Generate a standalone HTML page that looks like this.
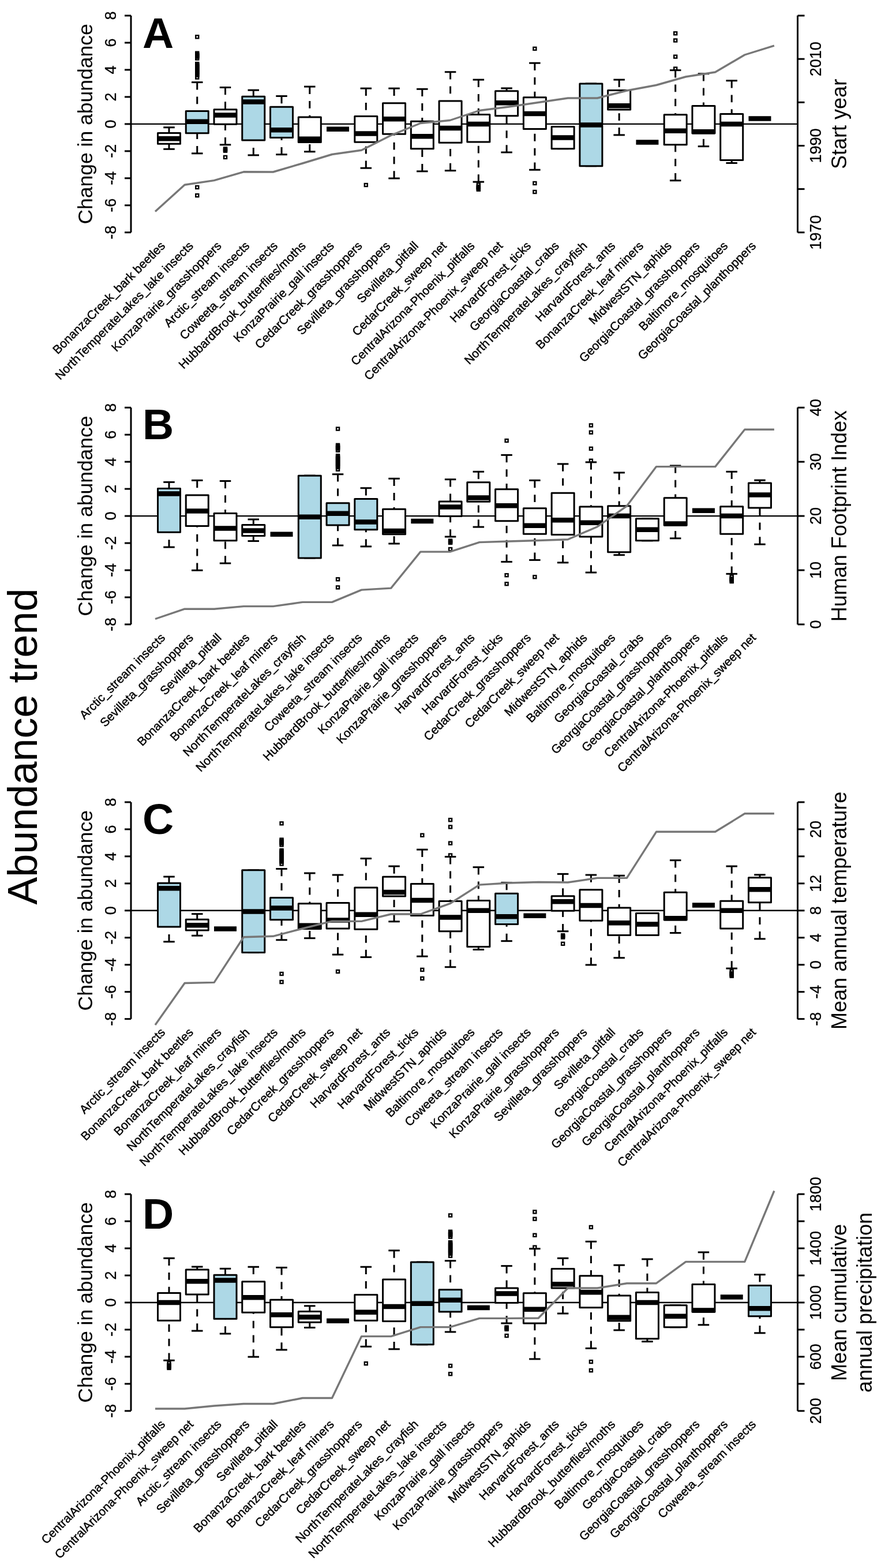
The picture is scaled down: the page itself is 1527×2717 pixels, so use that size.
<!DOCTYPE html>
<html><head><meta charset="utf-8"><title>Abundance trend</title>
<style>
html,body{margin:0;padding:0;background:#fff;}
body{width:1527px;height:2717px;overflow:hidden;}
svg{display:block;}
text{font-family:'Liberation Sans', Arial, Helvetica, sans-serif;fill:#000;}
.l{stroke:#000;stroke-width:0.45px;}
.t{stroke:#000;stroke-width:0.3px;}
</style></head><body>
<svg width="1527" height="2717" viewBox="0 0 1527 2717">
<rect width="1527" height="2717" fill="#fff"/>
<line x1="227" y1="214.9" x2="1382.5" y2="214.9" stroke="#000" stroke-width="2.4"/>
<line x1="293" y1="220.77" x2="293" y2="230.4" stroke="#000" stroke-width="3.0" stroke-dasharray="12.8,12"/>
<line x1="293" y1="258.34" x2="293" y2="249.18" stroke="#000" stroke-width="3.0" stroke-dasharray="12.8,12"/>
<line x1="283.25" y1="220.77" x2="302.75" y2="220.77" stroke="#000" stroke-width="3.0"/>
<line x1="283.25" y1="258.34" x2="302.75" y2="258.34" stroke="#000" stroke-width="3.0"/>
<rect x="273.5" y="230.4" width="39" height="18.78" fill="#fff" stroke="#000" stroke-width="3.0" stroke-linejoin="round"/>
<line x1="273.5" y1="240.26" x2="312.5" y2="240.26" stroke="#000" stroke-width="8.5"/>
<line x1="341.76" y1="142.58" x2="341.76" y2="192.59" stroke="#000" stroke-width="3.0" stroke-dasharray="12.8,12"/>
<line x1="341.76" y1="265.85" x2="341.76" y2="230.87" stroke="#000" stroke-width="3.0" stroke-dasharray="12.8,12"/>
<line x1="332.01" y1="142.58" x2="351.51" y2="142.58" stroke="#000" stroke-width="3.0"/>
<line x1="332.01" y1="265.85" x2="351.51" y2="265.85" stroke="#000" stroke-width="3.0"/>
<rect x="322.26" y="192.59" width="39" height="38.27" fill="#add8e6" stroke="#000" stroke-width="3.0" stroke-linejoin="round"/>
<line x1="322.26" y1="210.67" x2="361.26" y2="210.67" stroke="#000" stroke-width="8.5"/>
<rect x="339.26" y="61.4" width="5" height="5" fill="none" stroke="#000" stroke-width="2.4"/>
<rect x="339.26" y="89.69" width="5" height="5" fill="none" stroke="#000" stroke-width="2.4"/>
<rect x="339.26" y="91.99" width="5" height="5" fill="none" stroke="#000" stroke-width="2.4"/>
<rect x="339.26" y="93.99" width="5" height="5" fill="none" stroke="#000" stroke-width="2.4"/>
<rect x="339.26" y="95.8" width="5" height="5" fill="none" stroke="#000" stroke-width="2.4"/>
<rect x="339.26" y="98.59" width="5" height="5" fill="none" stroke="#000" stroke-width="2.4"/>
<rect x="339.26" y="108.1" width="5" height="5" fill="none" stroke="#000" stroke-width="2.4"/>
<rect x="339.26" y="110" width="5" height="5" fill="none" stroke="#000" stroke-width="2.4"/>
<rect x="339.26" y="112" width="5" height="5" fill="none" stroke="#000" stroke-width="2.4"/>
<rect x="339.26" y="114" width="5" height="5" fill="none" stroke="#000" stroke-width="2.4"/>
<rect x="339.26" y="115.99" width="5" height="5" fill="none" stroke="#000" stroke-width="2.4"/>
<rect x="339.26" y="118.01" width="5" height="5" fill="none" stroke="#000" stroke-width="2.4"/>
<rect x="339.26" y="120.01" width="5" height="5" fill="none" stroke="#000" stroke-width="2.4"/>
<rect x="339.26" y="122" width="5" height="5" fill="none" stroke="#000" stroke-width="2.4"/>
<rect x="339.26" y="124" width="5" height="5" fill="none" stroke="#000" stroke-width="2.4"/>
<rect x="339.26" y="125.99" width="5" height="5" fill="none" stroke="#000" stroke-width="2.4"/>
<rect x="339.26" y="127.9" width="5" height="5" fill="none" stroke="#000" stroke-width="2.4"/>
<rect x="339.26" y="131.61" width="5" height="5" fill="none" stroke="#000" stroke-width="2.4"/>
<rect x="339.26" y="322.05" width="5" height="5" fill="none" stroke="#000" stroke-width="2.4"/>
<rect x="339.26" y="336.14" width="5" height="5" fill="none" stroke="#000" stroke-width="2.4"/>
<line x1="390.52" y1="151.5" x2="390.52" y2="189.78" stroke="#000" stroke-width="3.0" stroke-dasharray="12.8,12"/>
<line x1="390.52" y1="250.82" x2="390.52" y2="215.37" stroke="#000" stroke-width="3.0" stroke-dasharray="12.8,12"/>
<line x1="380.77" y1="151.5" x2="400.27" y2="151.5" stroke="#000" stroke-width="3.0"/>
<line x1="380.77" y1="250.82" x2="400.27" y2="250.82" stroke="#000" stroke-width="3.0"/>
<rect x="371.02" y="189.78" width="39" height="25.59" fill="#fff" stroke="#000" stroke-width="3.0" stroke-linejoin="round"/>
<line x1="371.02" y1="199.4" x2="410.02" y2="199.4" stroke="#000" stroke-width="8.5"/>
<rect x="388.02" y="255.37" width="5" height="5" fill="none" stroke="#000" stroke-width="2.4"/>
<rect x="388.02" y="257.01" width="5" height="5" fill="none" stroke="#000" stroke-width="2.4"/>
<rect x="388.02" y="258.66" width="5" height="5" fill="none" stroke="#000" stroke-width="2.4"/>
<rect x="388.02" y="269.93" width="5" height="5" fill="none" stroke="#000" stroke-width="2.4"/>
<line x1="439.28" y1="156.2" x2="439.28" y2="167.24" stroke="#000" stroke-width="3.0" stroke-dasharray="12.8,12"/>
<line x1="439.28" y1="268.9" x2="439.28" y2="243.08" stroke="#000" stroke-width="3.0" stroke-dasharray="12.8,12"/>
<line x1="429.53" y1="156.2" x2="449.03" y2="156.2" stroke="#000" stroke-width="3.0"/>
<line x1="429.53" y1="268.9" x2="449.03" y2="268.9" stroke="#000" stroke-width="3.0"/>
<rect x="419.78" y="167.24" width="39" height="75.84" fill="#add8e6" stroke="#000" stroke-width="3.0" stroke-linejoin="round"/>
<line x1="419.78" y1="176.39" x2="458.78" y2="176.39" stroke="#000" stroke-width="8.5"/>
<line x1="488.04" y1="166.53" x2="488.04" y2="185.32" stroke="#000" stroke-width="3.0" stroke-dasharray="12.8,12"/>
<line x1="488.04" y1="267.73" x2="488.04" y2="238.61" stroke="#000" stroke-width="3.0" stroke-dasharray="12.8,12"/>
<line x1="478.29" y1="166.53" x2="497.79" y2="166.53" stroke="#000" stroke-width="3.0"/>
<line x1="478.29" y1="267.73" x2="497.79" y2="267.73" stroke="#000" stroke-width="3.0"/>
<rect x="468.54" y="185.32" width="39" height="53.3" fill="#add8e6" stroke="#000" stroke-width="3.0" stroke-linejoin="round"/>
<line x1="468.54" y1="225.23" x2="507.54" y2="225.23" stroke="#000" stroke-width="8.5"/>
<line x1="536.8" y1="150.1" x2="536.8" y2="202.93" stroke="#000" stroke-width="3.0" stroke-dasharray="12.8,12"/>
<line x1="536.8" y1="262.8" x2="536.8" y2="246.6" stroke="#000" stroke-width="3.0" stroke-dasharray="12.8,12"/>
<line x1="527.05" y1="150.1" x2="546.55" y2="150.1" stroke="#000" stroke-width="3.0"/>
<line x1="527.05" y1="262.8" x2="546.55" y2="262.8" stroke="#000" stroke-width="3.0"/>
<rect x="517.3" y="202.93" width="39" height="43.67" fill="#fff" stroke="#000" stroke-width="3.0" stroke-linejoin="round"/>
<line x1="517.3" y1="240.73" x2="556.3" y2="240.73" stroke="#000" stroke-width="8.5"/>
<line x1="575.81" y1="223.82" x2="595.31" y2="223.82" stroke="#000" stroke-width="3.0"/>
<line x1="575.81" y1="223.82" x2="595.31" y2="223.82" stroke="#000" stroke-width="3.0"/>
<rect x="566.06" y="223.82" width="39" height="0" fill="#fff" stroke="#000" stroke-width="3.0" stroke-linejoin="round"/>
<line x1="566.06" y1="223.82" x2="605.06" y2="223.82" stroke="#000" stroke-width="8.5"/>
<line x1="634.32" y1="153.15" x2="634.32" y2="201.52" stroke="#000" stroke-width="3.0" stroke-dasharray="12.8,12"/>
<line x1="634.32" y1="291.21" x2="634.32" y2="246.13" stroke="#000" stroke-width="3.0" stroke-dasharray="12.8,12"/>
<line x1="624.57" y1="153.15" x2="644.07" y2="153.15" stroke="#000" stroke-width="3.0"/>
<line x1="624.57" y1="291.21" x2="644.07" y2="291.21" stroke="#000" stroke-width="3.0"/>
<rect x="614.82" y="201.52" width="39" height="44.61" fill="#fff" stroke="#000" stroke-width="3.0" stroke-linejoin="round"/>
<line x1="614.82" y1="231.57" x2="653.82" y2="231.57" stroke="#000" stroke-width="8.5"/>
<rect x="631.82" y="318.06" width="5" height="5" fill="none" stroke="#000" stroke-width="2.4"/>
<line x1="683.08" y1="153.15" x2="683.08" y2="178.74" stroke="#000" stroke-width="3.0" stroke-dasharray="12.8,12"/>
<line x1="683.08" y1="309.05" x2="683.08" y2="232.28" stroke="#000" stroke-width="3.0" stroke-dasharray="12.8,12"/>
<line x1="673.33" y1="153.15" x2="692.83" y2="153.15" stroke="#000" stroke-width="3.0"/>
<line x1="673.33" y1="309.05" x2="692.83" y2="309.05" stroke="#000" stroke-width="3.0"/>
<rect x="663.58" y="178.74" width="39" height="53.53" fill="#fff" stroke="#000" stroke-width="3.0" stroke-linejoin="round"/>
<line x1="663.58" y1="206.21" x2="702.58" y2="206.21" stroke="#000" stroke-width="8.5"/>
<line x1="731.84" y1="154.32" x2="731.84" y2="210.2" stroke="#000" stroke-width="3.0" stroke-dasharray="12.8,12"/>
<line x1="731.84" y1="296.85" x2="731.84" y2="257.63" stroke="#000" stroke-width="3.0" stroke-dasharray="12.8,12"/>
<line x1="722.09" y1="154.32" x2="741.59" y2="154.32" stroke="#000" stroke-width="3.0"/>
<line x1="722.09" y1="296.85" x2="741.59" y2="296.85" stroke="#000" stroke-width="3.0"/>
<rect x="712.34" y="210.2" width="39" height="47.43" fill="#fff" stroke="#000" stroke-width="3.0" stroke-linejoin="round"/>
<line x1="712.34" y1="236.27" x2="751.34" y2="236.27" stroke="#000" stroke-width="8.5"/>
<line x1="780.6" y1="124.74" x2="780.6" y2="174.98" stroke="#000" stroke-width="3.0" stroke-dasharray="12.8,12"/>
<line x1="780.6" y1="295.67" x2="780.6" y2="247.3" stroke="#000" stroke-width="3.0" stroke-dasharray="12.8,12"/>
<line x1="770.85" y1="124.74" x2="790.35" y2="124.74" stroke="#000" stroke-width="3.0"/>
<line x1="770.85" y1="295.67" x2="790.35" y2="295.67" stroke="#000" stroke-width="3.0"/>
<rect x="761.1" y="174.98" width="39" height="72.32" fill="#fff" stroke="#000" stroke-width="3.0" stroke-linejoin="round"/>
<line x1="761.1" y1="221.94" x2="800.1" y2="221.94" stroke="#000" stroke-width="8.5"/>
<line x1="829.36" y1="138.12" x2="829.36" y2="198.46" stroke="#000" stroke-width="3.0" stroke-dasharray="12.8,12"/>
<line x1="829.36" y1="315.16" x2="829.36" y2="246.13" stroke="#000" stroke-width="3.0" stroke-dasharray="12.8,12"/>
<line x1="819.61" y1="138.12" x2="839.11" y2="138.12" stroke="#000" stroke-width="3.0"/>
<line x1="819.61" y1="315.16" x2="839.11" y2="315.16" stroke="#000" stroke-width="3.0"/>
<rect x="809.86" y="198.46" width="39" height="47.66" fill="#fff" stroke="#000" stroke-width="3.0" stroke-linejoin="round"/>
<line x1="809.86" y1="214.9" x2="848.86" y2="214.9" stroke="#000" stroke-width="8.5"/>
<rect x="826.86" y="317.5" width="5" height="5" fill="none" stroke="#000" stroke-width="2.4"/>
<rect x="826.86" y="321" width="5" height="5" fill="none" stroke="#000" stroke-width="2.4"/>
<rect x="826.86" y="322.5" width="5" height="5" fill="none" stroke="#000" stroke-width="2.4"/>
<rect x="826.86" y="324" width="5" height="5" fill="none" stroke="#000" stroke-width="2.4"/>
<rect x="826.86" y="325.81" width="5" height="5" fill="none" stroke="#000" stroke-width="2.4"/>
<line x1="878.12" y1="152.91" x2="878.12" y2="157.84" stroke="#000" stroke-width="3.0" stroke-dasharray="12.8,12"/>
<line x1="878.12" y1="263.97" x2="878.12" y2="200.81" stroke="#000" stroke-width="3.0" stroke-dasharray="12.8,12"/>
<line x1="868.37" y1="152.91" x2="887.87" y2="152.91" stroke="#000" stroke-width="3.0"/>
<line x1="868.37" y1="263.97" x2="887.87" y2="263.97" stroke="#000" stroke-width="3.0"/>
<rect x="858.62" y="157.84" width="39" height="42.97" fill="#fff" stroke="#000" stroke-width="3.0" stroke-linejoin="round"/>
<line x1="858.62" y1="178.27" x2="897.62" y2="178.27" stroke="#000" stroke-width="8.5"/>
<line x1="926.88" y1="109.24" x2="926.88" y2="168.64" stroke="#000" stroke-width="3.0" stroke-dasharray="12.8,12"/>
<line x1="926.88" y1="294.26" x2="926.88" y2="223.59" stroke="#000" stroke-width="3.0" stroke-dasharray="12.8,12"/>
<line x1="917.13" y1="109.24" x2="936.63" y2="109.24" stroke="#000" stroke-width="3.0"/>
<line x1="917.13" y1="294.26" x2="936.63" y2="294.26" stroke="#000" stroke-width="3.0"/>
<rect x="907.38" y="168.64" width="39" height="54.94" fill="#fff" stroke="#000" stroke-width="3.0" stroke-linejoin="round"/>
<line x1="907.38" y1="197.06" x2="946.38" y2="197.06" stroke="#000" stroke-width="8.5"/>
<rect x="924.38" y="81.85" width="5" height="5" fill="none" stroke="#000" stroke-width="2.4"/>
<rect x="924.38" y="315.01" width="5" height="5" fill="none" stroke="#000" stroke-width="2.4"/>
<rect x="924.38" y="330.03" width="5" height="5" fill="none" stroke="#000" stroke-width="2.4"/>
<line x1="965.89" y1="219.6" x2="985.39" y2="219.6" stroke="#000" stroke-width="3.0"/>
<line x1="965.89" y1="257.63" x2="985.39" y2="257.63" stroke="#000" stroke-width="3.0"/>
<rect x="956.14" y="219.6" width="39" height="38.04" fill="#fff" stroke="#000" stroke-width="3.0" stroke-linejoin="round"/>
<line x1="956.14" y1="238.61" x2="995.14" y2="238.61" stroke="#000" stroke-width="8.5"/>
<line x1="1014.65" y1="144.93" x2="1034.15" y2="144.93" stroke="#000" stroke-width="3.0"/>
<line x1="1014.65" y1="287.69" x2="1034.15" y2="287.69" stroke="#000" stroke-width="3.0"/>
<rect x="1004.9" y="144.93" width="39" height="142.76" fill="#add8e6" stroke="#000" stroke-width="3.0" stroke-linejoin="round"/>
<line x1="1004.9" y1="216.54" x2="1043.9" y2="216.54" stroke="#000" stroke-width="8.5"/>
<line x1="1073.16" y1="138.12" x2="1073.16" y2="156.43" stroke="#000" stroke-width="3.0" stroke-dasharray="12.8,12"/>
<line x1="1073.16" y1="233.92" x2="1073.16" y2="190.01" stroke="#000" stroke-width="3.0" stroke-dasharray="12.8,12"/>
<line x1="1063.41" y1="138.12" x2="1082.91" y2="138.12" stroke="#000" stroke-width="3.0"/>
<line x1="1063.41" y1="233.92" x2="1082.91" y2="233.92" stroke="#000" stroke-width="3.0"/>
<rect x="1053.66" y="156.43" width="39" height="33.58" fill="#fff" stroke="#000" stroke-width="3.0" stroke-linejoin="round"/>
<line x1="1053.66" y1="183.2" x2="1092.66" y2="183.2" stroke="#000" stroke-width="8.5"/>
<line x1="1112.17" y1="246.6" x2="1131.67" y2="246.6" stroke="#000" stroke-width="3.0"/>
<line x1="1112.17" y1="246.6" x2="1131.67" y2="246.6" stroke="#000" stroke-width="3.0"/>
<rect x="1102.42" y="246.6" width="39" height="0" fill="#fff" stroke="#000" stroke-width="3.0" stroke-linejoin="round"/>
<line x1="1102.42" y1="246.6" x2="1141.42" y2="246.6" stroke="#000" stroke-width="8.5"/>
<line x1="1170.68" y1="121.68" x2="1170.68" y2="198.7" stroke="#000" stroke-width="3.0" stroke-dasharray="12.8,12"/>
<line x1="1170.68" y1="312.81" x2="1170.68" y2="250.82" stroke="#000" stroke-width="3.0" stroke-dasharray="12.8,12"/>
<line x1="1160.93" y1="121.68" x2="1180.43" y2="121.68" stroke="#000" stroke-width="3.0"/>
<line x1="1160.93" y1="312.81" x2="1180.43" y2="312.81" stroke="#000" stroke-width="3.0"/>
<rect x="1151.18" y="198.7" width="39" height="52.13" fill="#fff" stroke="#000" stroke-width="3.0" stroke-linejoin="round"/>
<line x1="1151.18" y1="226.64" x2="1190.18" y2="226.64" stroke="#000" stroke-width="8.5"/>
<rect x="1168.18" y="55.32" width="5" height="5" fill="none" stroke="#000" stroke-width="2.4"/>
<rect x="1168.18" y="67.53" width="5" height="5" fill="none" stroke="#000" stroke-width="2.4"/>
<rect x="1168.18" y="95.7" width="5" height="5" fill="none" stroke="#000" stroke-width="2.4"/>
<rect x="1168.18" y="116.6" width="5" height="5" fill="none" stroke="#000" stroke-width="2.4"/>
<line x1="1219.44" y1="127.79" x2="1219.44" y2="183.44" stroke="#000" stroke-width="3.0" stroke-dasharray="12.8,12"/>
<line x1="1219.44" y1="253.64" x2="1219.44" y2="231.1" stroke="#000" stroke-width="3.0" stroke-dasharray="12.8,12"/>
<line x1="1209.69" y1="127.79" x2="1229.19" y2="127.79" stroke="#000" stroke-width="3.0"/>
<line x1="1209.69" y1="253.64" x2="1229.19" y2="253.64" stroke="#000" stroke-width="3.0"/>
<rect x="1199.94" y="183.44" width="39" height="47.66" fill="#fff" stroke="#000" stroke-width="3.0" stroke-linejoin="round"/>
<line x1="1199.94" y1="228.28" x2="1238.94" y2="228.28" stroke="#000" stroke-width="8.5"/>
<line x1="1268.2" y1="139.76" x2="1268.2" y2="197.52" stroke="#000" stroke-width="3.0" stroke-dasharray="12.8,12"/>
<line x1="1268.2" y1="282.52" x2="1268.2" y2="277.59" stroke="#000" stroke-width="3.0" stroke-dasharray="12.8,12"/>
<line x1="1258.45" y1="139.76" x2="1277.95" y2="139.76" stroke="#000" stroke-width="3.0"/>
<line x1="1258.45" y1="282.52" x2="1277.95" y2="282.52" stroke="#000" stroke-width="3.0"/>
<rect x="1248.7" y="197.52" width="39" height="80.07" fill="#fff" stroke="#000" stroke-width="3.0" stroke-linejoin="round"/>
<line x1="1248.7" y1="214.9" x2="1287.7" y2="214.9" stroke="#000" stroke-width="8.5"/>
<line x1="1307.21" y1="205.51" x2="1326.71" y2="205.51" stroke="#000" stroke-width="3.0"/>
<line x1="1307.21" y1="205.51" x2="1326.71" y2="205.51" stroke="#000" stroke-width="3.0"/>
<rect x="1297.46" y="205.51" width="39" height="0" fill="#fff" stroke="#000" stroke-width="3.0" stroke-linejoin="round"/>
<line x1="1297.46" y1="205.51" x2="1336.46" y2="205.51" stroke="#000" stroke-width="8.5"/>
<polyline points="269,366.5 320.09,320.2 371.18,312.6 422.27,297.8 473.36,298 524.45,283 575.54,267.5 626.63,260.3 677.72,234.5 728.81,213.5 779.9,208.5 830.99,191.5 882.08,185 933.17,177.5 984.26,170 1035.35,170 1086.44,157 1137.53,147.5 1188.62,133 1239.71,125 1290.8,95 1341.89,79.2" fill="none" stroke="#777" stroke-width="3.4" stroke-linejoin="round"/>
<line x1="227" y1="27.06" x2="227" y2="402.74" stroke="#000" stroke-width="3"/>
<line x1="216" y1="402.74" x2="227" y2="402.74" stroke="#000" stroke-width="3"/>
<text transform="translate(201.3,402.74) rotate(-90)" text-anchor="middle" font-size="27" class="t">-8</text>
<line x1="216" y1="355.78" x2="227" y2="355.78" stroke="#000" stroke-width="3"/>
<text transform="translate(201.3,355.78) rotate(-90)" text-anchor="middle" font-size="27" class="t">-6</text>
<line x1="216" y1="308.82" x2="227" y2="308.82" stroke="#000" stroke-width="3"/>
<text transform="translate(201.3,308.82) rotate(-90)" text-anchor="middle" font-size="27" class="t">-4</text>
<line x1="216" y1="261.86" x2="227" y2="261.86" stroke="#000" stroke-width="3"/>
<text transform="translate(201.3,261.86) rotate(-90)" text-anchor="middle" font-size="27" class="t">-2</text>
<line x1="216" y1="214.9" x2="227" y2="214.9" stroke="#000" stroke-width="3"/>
<text transform="translate(201.3,214.9) rotate(-90)" text-anchor="middle" font-size="27" class="t">0</text>
<line x1="216" y1="167.94" x2="227" y2="167.94" stroke="#000" stroke-width="3"/>
<text transform="translate(201.3,167.94) rotate(-90)" text-anchor="middle" font-size="27" class="t">2</text>
<line x1="216" y1="120.98" x2="227" y2="120.98" stroke="#000" stroke-width="3"/>
<text transform="translate(201.3,120.98) rotate(-90)" text-anchor="middle" font-size="27" class="t">4</text>
<line x1="216" y1="74.02" x2="227" y2="74.02" stroke="#000" stroke-width="3"/>
<text transform="translate(201.3,74.02) rotate(-90)" text-anchor="middle" font-size="27" class="t">6</text>
<line x1="216" y1="27.06" x2="227" y2="27.06" stroke="#000" stroke-width="3"/>
<text transform="translate(201.3,27.06) rotate(-90)" text-anchor="middle" font-size="27" class="t">8</text>
<text transform="translate(159.5,214.9) rotate(-90)" text-anchor="middle" font-size="35.5">Change in abundance</text>
<line x1="1382.5" y1="27.06" x2="1382.5" y2="402.74" stroke="#000" stroke-width="3"/>
<line x1="1382.5" y1="402.74" x2="1394.5" y2="402.74" stroke="#000" stroke-width="3"/>
<line x1="1382.5" y1="327.6" x2="1394.5" y2="327.6" stroke="#000" stroke-width="3"/>
<line x1="1382.5" y1="252.47" x2="1394.5" y2="252.47" stroke="#000" stroke-width="3"/>
<line x1="1382.5" y1="177.33" x2="1394.5" y2="177.33" stroke="#000" stroke-width="3"/>
<line x1="1382.5" y1="102.2" x2="1394.5" y2="102.2" stroke="#000" stroke-width="3"/>
<line x1="1382.5" y1="27.06" x2="1394.5" y2="27.06" stroke="#000" stroke-width="3"/>
<text transform="translate(1423.4,402.74) rotate(-90)" text-anchor="middle" font-size="27" class="t">1970</text>
<text transform="translate(1423.4,252.47) rotate(-90)" text-anchor="middle" font-size="27" class="t">1990</text>
<text transform="translate(1423.4,102.2) rotate(-90)" text-anchor="middle" font-size="27" class="t">2010</text>
<text transform="translate(1466.5,214.9) rotate(-90)" text-anchor="middle" font-size="36">Start year</text>
<text x="247" y="82.6" font-size="75" font-weight="bold">A</text>
<text transform="translate(287.5,427.24) rotate(-45)" text-anchor="end" font-size="21" class="l">BonanzaCreek_bark beetles</text>
<text transform="translate(336.26,427.24) rotate(-45)" text-anchor="end" font-size="21" class="l">NorthTemperateLakes_lake insects</text>
<text transform="translate(385.02,427.24) rotate(-45)" text-anchor="end" font-size="21" class="l">KonzaPrairie_grasshoppers</text>
<text transform="translate(433.78,427.24) rotate(-45)" text-anchor="end" font-size="21" class="l">Arctic_stream insects</text>
<text transform="translate(482.54,427.24) rotate(-45)" text-anchor="end" font-size="21" class="l">Coweeta_stream insects</text>
<text transform="translate(531.3,427.24) rotate(-45)" text-anchor="end" font-size="21" class="l">HubbardBrook_butterflies/moths</text>
<text transform="translate(580.06,427.24) rotate(-45)" text-anchor="end" font-size="21" class="l">KonzaPrairie_gall insects</text>
<text transform="translate(628.82,427.24) rotate(-45)" text-anchor="end" font-size="21" class="l">CedarCreek_grasshoppers</text>
<text transform="translate(677.58,427.24) rotate(-45)" text-anchor="end" font-size="21" class="l">Sevilleta_grasshoppers</text>
<text transform="translate(726.34,427.24) rotate(-45)" text-anchor="end" font-size="21" class="l">Sevilleta_pitfall</text>
<text transform="translate(775.1,427.24) rotate(-45)" text-anchor="end" font-size="21" class="l">CedarCreek_sweep net</text>
<text transform="translate(823.86,427.24) rotate(-45)" text-anchor="end" font-size="21" class="l">CentralArizona-Phoenix_pitfalls</text>
<text transform="translate(872.62,427.24) rotate(-45)" text-anchor="end" font-size="21" class="l">CentralArizona-Phoenix_sweep net</text>
<text transform="translate(921.38,427.24) rotate(-45)" text-anchor="end" font-size="21" class="l">HarvardForest_ticks</text>
<text transform="translate(970.14,427.24) rotate(-45)" text-anchor="end" font-size="21" class="l">GeorgiaCoastal_crabs</text>
<text transform="translate(1018.9,427.24) rotate(-45)" text-anchor="end" font-size="21" class="l">NorthTemperateLakes_crayfish</text>
<text transform="translate(1067.66,427.24) rotate(-45)" text-anchor="end" font-size="21" class="l">HarvardForest_ants</text>
<text transform="translate(1116.42,427.24) rotate(-45)" text-anchor="end" font-size="21" class="l">BonanzaCreek_leaf miners</text>
<text transform="translate(1165.18,427.24) rotate(-45)" text-anchor="end" font-size="21" class="l">MidwestSTN_aphids</text>
<text transform="translate(1213.94,427.24) rotate(-45)" text-anchor="end" font-size="21" class="l">GeorgiaCoastal_grasshoppers</text>
<text transform="translate(1262.7,427.24) rotate(-45)" text-anchor="end" font-size="21" class="l">Baltimore_mosquitoes</text>
<text transform="translate(1311.46,427.24) rotate(-45)" text-anchor="end" font-size="21" class="l">GeorgiaCoastal_planthoppers</text>
<line x1="227" y1="894.1" x2="1382.5" y2="894.1" stroke="#000" stroke-width="2.4"/>
<line x1="293" y1="835.4" x2="293" y2="846.44" stroke="#000" stroke-width="3.0" stroke-dasharray="12.8,12"/>
<line x1="293" y1="948.1" x2="293" y2="922.28" stroke="#000" stroke-width="3.0" stroke-dasharray="12.8,12"/>
<line x1="283.25" y1="835.4" x2="302.75" y2="835.4" stroke="#000" stroke-width="3.0"/>
<line x1="283.25" y1="948.1" x2="302.75" y2="948.1" stroke="#000" stroke-width="3.0"/>
<rect x="273.5" y="846.44" width="39" height="75.84" fill="#add8e6" stroke="#000" stroke-width="3.0" stroke-linejoin="round"/>
<line x1="273.5" y1="855.59" x2="312.5" y2="855.59" stroke="#000" stroke-width="8.5"/>
<line x1="341.76" y1="832.35" x2="341.76" y2="857.94" stroke="#000" stroke-width="3.0" stroke-dasharray="12.8,12"/>
<line x1="341.76" y1="988.25" x2="341.76" y2="911.48" stroke="#000" stroke-width="3.0" stroke-dasharray="12.8,12"/>
<line x1="332.01" y1="832.35" x2="351.51" y2="832.35" stroke="#000" stroke-width="3.0"/>
<line x1="332.01" y1="988.25" x2="351.51" y2="988.25" stroke="#000" stroke-width="3.0"/>
<rect x="322.26" y="857.94" width="39" height="53.53" fill="#fff" stroke="#000" stroke-width="3.0" stroke-linejoin="round"/>
<line x1="322.26" y1="885.41" x2="361.26" y2="885.41" stroke="#000" stroke-width="8.5"/>
<line x1="390.52" y1="833.52" x2="390.52" y2="889.4" stroke="#000" stroke-width="3.0" stroke-dasharray="12.8,12"/>
<line x1="390.52" y1="976.05" x2="390.52" y2="936.83" stroke="#000" stroke-width="3.0" stroke-dasharray="12.8,12"/>
<line x1="380.77" y1="833.52" x2="400.27" y2="833.52" stroke="#000" stroke-width="3.0"/>
<line x1="380.77" y1="976.05" x2="400.27" y2="976.05" stroke="#000" stroke-width="3.0"/>
<rect x="371.02" y="889.4" width="39" height="47.43" fill="#fff" stroke="#000" stroke-width="3.0" stroke-linejoin="round"/>
<line x1="371.02" y1="915.47" x2="410.02" y2="915.47" stroke="#000" stroke-width="8.5"/>
<line x1="439.28" y1="899.97" x2="439.28" y2="909.6" stroke="#000" stroke-width="3.0" stroke-dasharray="12.8,12"/>
<line x1="439.28" y1="937.54" x2="439.28" y2="928.38" stroke="#000" stroke-width="3.0" stroke-dasharray="12.8,12"/>
<line x1="429.53" y1="899.97" x2="449.03" y2="899.97" stroke="#000" stroke-width="3.0"/>
<line x1="429.53" y1="937.54" x2="449.03" y2="937.54" stroke="#000" stroke-width="3.0"/>
<rect x="419.78" y="909.6" width="39" height="18.78" fill="#fff" stroke="#000" stroke-width="3.0" stroke-linejoin="round"/>
<line x1="419.78" y1="919.46" x2="458.78" y2="919.46" stroke="#000" stroke-width="8.5"/>
<line x1="478.29" y1="925.8" x2="497.79" y2="925.8" stroke="#000" stroke-width="3.0"/>
<line x1="478.29" y1="925.8" x2="497.79" y2="925.8" stroke="#000" stroke-width="3.0"/>
<rect x="468.54" y="925.8" width="39" height="0" fill="#fff" stroke="#000" stroke-width="3.0" stroke-linejoin="round"/>
<line x1="468.54" y1="925.8" x2="507.54" y2="925.8" stroke="#000" stroke-width="8.5"/>
<line x1="527.05" y1="824.13" x2="546.55" y2="824.13" stroke="#000" stroke-width="3.0"/>
<line x1="527.05" y1="966.89" x2="546.55" y2="966.89" stroke="#000" stroke-width="3.0"/>
<rect x="517.3" y="824.13" width="39" height="142.76" fill="#add8e6" stroke="#000" stroke-width="3.0" stroke-linejoin="round"/>
<line x1="517.3" y1="895.74" x2="556.3" y2="895.74" stroke="#000" stroke-width="8.5"/>
<line x1="585.56" y1="821.78" x2="585.56" y2="871.79" stroke="#000" stroke-width="3.0" stroke-dasharray="12.8,12"/>
<line x1="585.56" y1="945.05" x2="585.56" y2="910.07" stroke="#000" stroke-width="3.0" stroke-dasharray="12.8,12"/>
<line x1="575.81" y1="821.78" x2="595.31" y2="821.78" stroke="#000" stroke-width="3.0"/>
<line x1="575.81" y1="945.05" x2="595.31" y2="945.05" stroke="#000" stroke-width="3.0"/>
<rect x="566.06" y="871.79" width="39" height="38.27" fill="#add8e6" stroke="#000" stroke-width="3.0" stroke-linejoin="round"/>
<line x1="566.06" y1="889.87" x2="605.06" y2="889.87" stroke="#000" stroke-width="8.5"/>
<rect x="583.06" y="740.6" width="5" height="5" fill="none" stroke="#000" stroke-width="2.4"/>
<rect x="583.06" y="768.89" width="5" height="5" fill="none" stroke="#000" stroke-width="2.4"/>
<rect x="583.06" y="771.19" width="5" height="5" fill="none" stroke="#000" stroke-width="2.4"/>
<rect x="583.06" y="773.19" width="5" height="5" fill="none" stroke="#000" stroke-width="2.4"/>
<rect x="583.06" y="775" width="5" height="5" fill="none" stroke="#000" stroke-width="2.4"/>
<rect x="583.06" y="777.79" width="5" height="5" fill="none" stroke="#000" stroke-width="2.4"/>
<rect x="583.06" y="787.3" width="5" height="5" fill="none" stroke="#000" stroke-width="2.4"/>
<rect x="583.06" y="789.2" width="5" height="5" fill="none" stroke="#000" stroke-width="2.4"/>
<rect x="583.06" y="791.2" width="5" height="5" fill="none" stroke="#000" stroke-width="2.4"/>
<rect x="583.06" y="793.2" width="5" height="5" fill="none" stroke="#000" stroke-width="2.4"/>
<rect x="583.06" y="795.19" width="5" height="5" fill="none" stroke="#000" stroke-width="2.4"/>
<rect x="583.06" y="797.21" width="5" height="5" fill="none" stroke="#000" stroke-width="2.4"/>
<rect x="583.06" y="799.21" width="5" height="5" fill="none" stroke="#000" stroke-width="2.4"/>
<rect x="583.06" y="801.2" width="5" height="5" fill="none" stroke="#000" stroke-width="2.4"/>
<rect x="583.06" y="803.2" width="5" height="5" fill="none" stroke="#000" stroke-width="2.4"/>
<rect x="583.06" y="805.19" width="5" height="5" fill="none" stroke="#000" stroke-width="2.4"/>
<rect x="583.06" y="807.1" width="5" height="5" fill="none" stroke="#000" stroke-width="2.4"/>
<rect x="583.06" y="810.81" width="5" height="5" fill="none" stroke="#000" stroke-width="2.4"/>
<rect x="583.06" y="1001.25" width="5" height="5" fill="none" stroke="#000" stroke-width="2.4"/>
<rect x="583.06" y="1015.34" width="5" height="5" fill="none" stroke="#000" stroke-width="2.4"/>
<line x1="634.32" y1="845.73" x2="634.32" y2="864.52" stroke="#000" stroke-width="3.0" stroke-dasharray="12.8,12"/>
<line x1="634.32" y1="946.93" x2="634.32" y2="917.81" stroke="#000" stroke-width="3.0" stroke-dasharray="12.8,12"/>
<line x1="624.57" y1="845.73" x2="644.07" y2="845.73" stroke="#000" stroke-width="3.0"/>
<line x1="624.57" y1="946.93" x2="644.07" y2="946.93" stroke="#000" stroke-width="3.0"/>
<rect x="614.82" y="864.52" width="39" height="53.3" fill="#add8e6" stroke="#000" stroke-width="3.0" stroke-linejoin="round"/>
<line x1="614.82" y1="904.43" x2="653.82" y2="904.43" stroke="#000" stroke-width="8.5"/>
<line x1="683.08" y1="829.3" x2="683.08" y2="882.13" stroke="#000" stroke-width="3.0" stroke-dasharray="12.8,12"/>
<line x1="683.08" y1="942" x2="683.08" y2="925.8" stroke="#000" stroke-width="3.0" stroke-dasharray="12.8,12"/>
<line x1="673.33" y1="829.3" x2="692.83" y2="829.3" stroke="#000" stroke-width="3.0"/>
<line x1="673.33" y1="942" x2="692.83" y2="942" stroke="#000" stroke-width="3.0"/>
<rect x="663.58" y="882.13" width="39" height="43.67" fill="#fff" stroke="#000" stroke-width="3.0" stroke-linejoin="round"/>
<line x1="663.58" y1="919.93" x2="702.58" y2="919.93" stroke="#000" stroke-width="8.5"/>
<line x1="722.09" y1="903.02" x2="741.59" y2="903.02" stroke="#000" stroke-width="3.0"/>
<line x1="722.09" y1="903.02" x2="741.59" y2="903.02" stroke="#000" stroke-width="3.0"/>
<rect x="712.34" y="903.02" width="39" height="0" fill="#fff" stroke="#000" stroke-width="3.0" stroke-linejoin="round"/>
<line x1="712.34" y1="903.02" x2="751.34" y2="903.02" stroke="#000" stroke-width="8.5"/>
<line x1="780.6" y1="830.7" x2="780.6" y2="868.98" stroke="#000" stroke-width="3.0" stroke-dasharray="12.8,12"/>
<line x1="780.6" y1="930.02" x2="780.6" y2="894.57" stroke="#000" stroke-width="3.0" stroke-dasharray="12.8,12"/>
<line x1="770.85" y1="830.7" x2="790.35" y2="830.7" stroke="#000" stroke-width="3.0"/>
<line x1="770.85" y1="930.02" x2="790.35" y2="930.02" stroke="#000" stroke-width="3.0"/>
<rect x="761.1" y="868.98" width="39" height="25.59" fill="#fff" stroke="#000" stroke-width="3.0" stroke-linejoin="round"/>
<line x1="761.1" y1="878.6" x2="800.1" y2="878.6" stroke="#000" stroke-width="8.5"/>
<rect x="778.1" y="934.57" width="5" height="5" fill="none" stroke="#000" stroke-width="2.4"/>
<rect x="778.1" y="936.21" width="5" height="5" fill="none" stroke="#000" stroke-width="2.4"/>
<rect x="778.1" y="937.86" width="5" height="5" fill="none" stroke="#000" stroke-width="2.4"/>
<rect x="778.1" y="949.13" width="5" height="5" fill="none" stroke="#000" stroke-width="2.4"/>
<line x1="829.36" y1="817.32" x2="829.36" y2="835.63" stroke="#000" stroke-width="3.0" stroke-dasharray="12.8,12"/>
<line x1="829.36" y1="913.12" x2="829.36" y2="869.21" stroke="#000" stroke-width="3.0" stroke-dasharray="12.8,12"/>
<line x1="819.61" y1="817.32" x2="839.11" y2="817.32" stroke="#000" stroke-width="3.0"/>
<line x1="819.61" y1="913.12" x2="839.11" y2="913.12" stroke="#000" stroke-width="3.0"/>
<rect x="809.86" y="835.63" width="39" height="33.58" fill="#fff" stroke="#000" stroke-width="3.0" stroke-linejoin="round"/>
<line x1="809.86" y1="862.4" x2="848.86" y2="862.4" stroke="#000" stroke-width="8.5"/>
<line x1="878.12" y1="788.44" x2="878.12" y2="847.84" stroke="#000" stroke-width="3.0" stroke-dasharray="12.8,12"/>
<line x1="878.12" y1="973.46" x2="878.12" y2="902.79" stroke="#000" stroke-width="3.0" stroke-dasharray="12.8,12"/>
<line x1="868.37" y1="788.44" x2="887.87" y2="788.44" stroke="#000" stroke-width="3.0"/>
<line x1="868.37" y1="973.46" x2="887.87" y2="973.46" stroke="#000" stroke-width="3.0"/>
<rect x="858.62" y="847.84" width="39" height="54.94" fill="#fff" stroke="#000" stroke-width="3.0" stroke-linejoin="round"/>
<line x1="858.62" y1="876.26" x2="897.62" y2="876.26" stroke="#000" stroke-width="8.5"/>
<rect x="875.62" y="761.05" width="5" height="5" fill="none" stroke="#000" stroke-width="2.4"/>
<rect x="875.62" y="994.21" width="5" height="5" fill="none" stroke="#000" stroke-width="2.4"/>
<rect x="875.62" y="1009.23" width="5" height="5" fill="none" stroke="#000" stroke-width="2.4"/>
<line x1="926.88" y1="832.35" x2="926.88" y2="880.72" stroke="#000" stroke-width="3.0" stroke-dasharray="12.8,12"/>
<line x1="926.88" y1="970.41" x2="926.88" y2="925.33" stroke="#000" stroke-width="3.0" stroke-dasharray="12.8,12"/>
<line x1="917.13" y1="832.35" x2="936.63" y2="832.35" stroke="#000" stroke-width="3.0"/>
<line x1="917.13" y1="970.41" x2="936.63" y2="970.41" stroke="#000" stroke-width="3.0"/>
<rect x="907.38" y="880.72" width="39" height="44.61" fill="#fff" stroke="#000" stroke-width="3.0" stroke-linejoin="round"/>
<line x1="907.38" y1="910.77" x2="946.38" y2="910.77" stroke="#000" stroke-width="8.5"/>
<rect x="924.38" y="997.26" width="5" height="5" fill="none" stroke="#000" stroke-width="2.4"/>
<line x1="975.64" y1="803.94" x2="975.64" y2="854.18" stroke="#000" stroke-width="3.0" stroke-dasharray="12.8,12"/>
<line x1="975.64" y1="974.87" x2="975.64" y2="926.5" stroke="#000" stroke-width="3.0" stroke-dasharray="12.8,12"/>
<line x1="965.89" y1="803.94" x2="985.39" y2="803.94" stroke="#000" stroke-width="3.0"/>
<line x1="965.89" y1="974.87" x2="985.39" y2="974.87" stroke="#000" stroke-width="3.0"/>
<rect x="956.14" y="854.18" width="39" height="72.32" fill="#fff" stroke="#000" stroke-width="3.0" stroke-linejoin="round"/>
<line x1="956.14" y1="901.14" x2="995.14" y2="901.14" stroke="#000" stroke-width="8.5"/>
<line x1="1024.4" y1="800.88" x2="1024.4" y2="877.9" stroke="#000" stroke-width="3.0" stroke-dasharray="12.8,12"/>
<line x1="1024.4" y1="992.01" x2="1024.4" y2="930.02" stroke="#000" stroke-width="3.0" stroke-dasharray="12.8,12"/>
<line x1="1014.65" y1="800.88" x2="1034.15" y2="800.88" stroke="#000" stroke-width="3.0"/>
<line x1="1014.65" y1="992.01" x2="1034.15" y2="992.01" stroke="#000" stroke-width="3.0"/>
<rect x="1004.9" y="877.9" width="39" height="52.13" fill="#fff" stroke="#000" stroke-width="3.0" stroke-linejoin="round"/>
<line x1="1004.9" y1="905.84" x2="1043.9" y2="905.84" stroke="#000" stroke-width="8.5"/>
<rect x="1021.9" y="734.52" width="5" height="5" fill="none" stroke="#000" stroke-width="2.4"/>
<rect x="1021.9" y="746.73" width="5" height="5" fill="none" stroke="#000" stroke-width="2.4"/>
<rect x="1021.9" y="774.9" width="5" height="5" fill="none" stroke="#000" stroke-width="2.4"/>
<rect x="1021.9" y="795.8" width="5" height="5" fill="none" stroke="#000" stroke-width="2.4"/>
<line x1="1073.16" y1="818.96" x2="1073.16" y2="876.72" stroke="#000" stroke-width="3.0" stroke-dasharray="12.8,12"/>
<line x1="1073.16" y1="961.72" x2="1073.16" y2="956.79" stroke="#000" stroke-width="3.0" stroke-dasharray="12.8,12"/>
<line x1="1063.41" y1="818.96" x2="1082.91" y2="818.96" stroke="#000" stroke-width="3.0"/>
<line x1="1063.41" y1="961.72" x2="1082.91" y2="961.72" stroke="#000" stroke-width="3.0"/>
<rect x="1053.66" y="876.72" width="39" height="80.07" fill="#fff" stroke="#000" stroke-width="3.0" stroke-linejoin="round"/>
<line x1="1053.66" y1="894.1" x2="1092.66" y2="894.1" stroke="#000" stroke-width="8.5"/>
<line x1="1112.17" y1="898.8" x2="1131.67" y2="898.8" stroke="#000" stroke-width="3.0"/>
<line x1="1112.17" y1="936.83" x2="1131.67" y2="936.83" stroke="#000" stroke-width="3.0"/>
<rect x="1102.42" y="898.8" width="39" height="38.04" fill="#fff" stroke="#000" stroke-width="3.0" stroke-linejoin="round"/>
<line x1="1102.42" y1="917.81" x2="1141.42" y2="917.81" stroke="#000" stroke-width="8.5"/>
<line x1="1170.68" y1="806.99" x2="1170.68" y2="862.64" stroke="#000" stroke-width="3.0" stroke-dasharray="12.8,12"/>
<line x1="1170.68" y1="932.84" x2="1170.68" y2="910.3" stroke="#000" stroke-width="3.0" stroke-dasharray="12.8,12"/>
<line x1="1160.93" y1="806.99" x2="1180.43" y2="806.99" stroke="#000" stroke-width="3.0"/>
<line x1="1160.93" y1="932.84" x2="1180.43" y2="932.84" stroke="#000" stroke-width="3.0"/>
<rect x="1151.18" y="862.64" width="39" height="47.66" fill="#fff" stroke="#000" stroke-width="3.0" stroke-linejoin="round"/>
<line x1="1151.18" y1="907.48" x2="1190.18" y2="907.48" stroke="#000" stroke-width="8.5"/>
<line x1="1209.69" y1="884.71" x2="1229.19" y2="884.71" stroke="#000" stroke-width="3.0"/>
<line x1="1209.69" y1="884.71" x2="1229.19" y2="884.71" stroke="#000" stroke-width="3.0"/>
<rect x="1199.94" y="884.71" width="39" height="0" fill="#fff" stroke="#000" stroke-width="3.0" stroke-linejoin="round"/>
<line x1="1199.94" y1="884.71" x2="1238.94" y2="884.71" stroke="#000" stroke-width="8.5"/>
<line x1="1268.2" y1="817.32" x2="1268.2" y2="877.66" stroke="#000" stroke-width="3.0" stroke-dasharray="12.8,12"/>
<line x1="1268.2" y1="994.36" x2="1268.2" y2="925.33" stroke="#000" stroke-width="3.0" stroke-dasharray="12.8,12"/>
<line x1="1258.45" y1="817.32" x2="1277.95" y2="817.32" stroke="#000" stroke-width="3.0"/>
<line x1="1258.45" y1="994.36" x2="1277.95" y2="994.36" stroke="#000" stroke-width="3.0"/>
<rect x="1248.7" y="877.66" width="39" height="47.66" fill="#fff" stroke="#000" stroke-width="3.0" stroke-linejoin="round"/>
<line x1="1248.7" y1="894.1" x2="1287.7" y2="894.1" stroke="#000" stroke-width="8.5"/>
<rect x="1265.7" y="996.7" width="5" height="5" fill="none" stroke="#000" stroke-width="2.4"/>
<rect x="1265.7" y="1000.2" width="5" height="5" fill="none" stroke="#000" stroke-width="2.4"/>
<rect x="1265.7" y="1001.7" width="5" height="5" fill="none" stroke="#000" stroke-width="2.4"/>
<rect x="1265.7" y="1003.2" width="5" height="5" fill="none" stroke="#000" stroke-width="2.4"/>
<rect x="1265.7" y="1005.01" width="5" height="5" fill="none" stroke="#000" stroke-width="2.4"/>
<line x1="1316.96" y1="832.11" x2="1316.96" y2="837.04" stroke="#000" stroke-width="3.0" stroke-dasharray="12.8,12"/>
<line x1="1316.96" y1="943.17" x2="1316.96" y2="880.01" stroke="#000" stroke-width="3.0" stroke-dasharray="12.8,12"/>
<line x1="1307.21" y1="832.11" x2="1326.71" y2="832.11" stroke="#000" stroke-width="3.0"/>
<line x1="1307.21" y1="943.17" x2="1326.71" y2="943.17" stroke="#000" stroke-width="3.0"/>
<rect x="1297.46" y="837.04" width="39" height="42.97" fill="#fff" stroke="#000" stroke-width="3.0" stroke-linejoin="round"/>
<line x1="1297.46" y1="857.47" x2="1336.46" y2="857.47" stroke="#000" stroke-width="8.5"/>
<polyline points="269,1072.5 320.09,1055.2 371.18,1055.2 422.27,1050.6 473.36,1050.6 524.45,1043.4 575.54,1043.4 626.63,1022.1 677.72,1019.1 728.81,956.1 779.9,956.1 830.99,939.6 882.08,938 933.17,936.5 984.26,934.8 1035.35,912.7 1086.44,876.8 1137.53,808.6 1188.62,808.6 1239.71,808.6 1290.8,744.2 1341.89,744.2" fill="none" stroke="#777" stroke-width="3.4" stroke-linejoin="round"/>
<line x1="227" y1="706.26" x2="227" y2="1081.94" stroke="#000" stroke-width="3"/>
<line x1="216" y1="1081.94" x2="227" y2="1081.94" stroke="#000" stroke-width="3"/>
<text transform="translate(201.3,1081.94) rotate(-90)" text-anchor="middle" font-size="27" class="t">-8</text>
<line x1="216" y1="1034.98" x2="227" y2="1034.98" stroke="#000" stroke-width="3"/>
<text transform="translate(201.3,1034.98) rotate(-90)" text-anchor="middle" font-size="27" class="t">-6</text>
<line x1="216" y1="988.02" x2="227" y2="988.02" stroke="#000" stroke-width="3"/>
<text transform="translate(201.3,988.02) rotate(-90)" text-anchor="middle" font-size="27" class="t">-4</text>
<line x1="216" y1="941.06" x2="227" y2="941.06" stroke="#000" stroke-width="3"/>
<text transform="translate(201.3,941.06) rotate(-90)" text-anchor="middle" font-size="27" class="t">-2</text>
<line x1="216" y1="894.1" x2="227" y2="894.1" stroke="#000" stroke-width="3"/>
<text transform="translate(201.3,894.1) rotate(-90)" text-anchor="middle" font-size="27" class="t">0</text>
<line x1="216" y1="847.14" x2="227" y2="847.14" stroke="#000" stroke-width="3"/>
<text transform="translate(201.3,847.14) rotate(-90)" text-anchor="middle" font-size="27" class="t">2</text>
<line x1="216" y1="800.18" x2="227" y2="800.18" stroke="#000" stroke-width="3"/>
<text transform="translate(201.3,800.18) rotate(-90)" text-anchor="middle" font-size="27" class="t">4</text>
<line x1="216" y1="753.22" x2="227" y2="753.22" stroke="#000" stroke-width="3"/>
<text transform="translate(201.3,753.22) rotate(-90)" text-anchor="middle" font-size="27" class="t">6</text>
<line x1="216" y1="706.26" x2="227" y2="706.26" stroke="#000" stroke-width="3"/>
<text transform="translate(201.3,706.26) rotate(-90)" text-anchor="middle" font-size="27" class="t">8</text>
<text transform="translate(159.5,894.1) rotate(-90)" text-anchor="middle" font-size="35.5">Change in abundance</text>
<line x1="1382.5" y1="706.26" x2="1382.5" y2="1081.94" stroke="#000" stroke-width="3"/>
<line x1="1382.5" y1="1081.94" x2="1394.5" y2="1081.94" stroke="#000" stroke-width="3"/>
<line x1="1382.5" y1="988.02" x2="1394.5" y2="988.02" stroke="#000" stroke-width="3"/>
<line x1="1382.5" y1="894.1" x2="1394.5" y2="894.1" stroke="#000" stroke-width="3"/>
<line x1="1382.5" y1="800.18" x2="1394.5" y2="800.18" stroke="#000" stroke-width="3"/>
<line x1="1382.5" y1="706.26" x2="1394.5" y2="706.26" stroke="#000" stroke-width="3"/>
<text transform="translate(1423.4,1081.94) rotate(-90)" text-anchor="middle" font-size="27" class="t">0</text>
<text transform="translate(1423.4,988.02) rotate(-90)" text-anchor="middle" font-size="27" class="t">10</text>
<text transform="translate(1423.4,894.1) rotate(-90)" text-anchor="middle" font-size="27" class="t">20</text>
<text transform="translate(1423.4,800.18) rotate(-90)" text-anchor="middle" font-size="27" class="t">30</text>
<text transform="translate(1423.4,706.26) rotate(-90)" text-anchor="middle" font-size="27" class="t">40</text>
<text transform="translate(1466.5,894.1) rotate(-90)" text-anchor="middle" font-size="36">Human Footprint Index</text>
<text x="247" y="760.9" font-size="75" font-weight="bold">B</text>
<text transform="translate(287.5,1106.44) rotate(-45)" text-anchor="end" font-size="21" class="l">Arctic_stream insects</text>
<text transform="translate(336.26,1106.44) rotate(-45)" text-anchor="end" font-size="21" class="l">Sevilleta_grasshoppers</text>
<text transform="translate(385.02,1106.44) rotate(-45)" text-anchor="end" font-size="21" class="l">Sevilleta_pitfall</text>
<text transform="translate(433.78,1106.44) rotate(-45)" text-anchor="end" font-size="21" class="l">BonanzaCreek_bark beetles</text>
<text transform="translate(482.54,1106.44) rotate(-45)" text-anchor="end" font-size="21" class="l">BonanzaCreek_leaf miners</text>
<text transform="translate(531.3,1106.44) rotate(-45)" text-anchor="end" font-size="21" class="l">NorthTemperateLakes_crayfish</text>
<text transform="translate(580.06,1106.44) rotate(-45)" text-anchor="end" font-size="21" class="l">NorthTemperateLakes_lake insects</text>
<text transform="translate(628.82,1106.44) rotate(-45)" text-anchor="end" font-size="21" class="l">Coweeta_stream insects</text>
<text transform="translate(677.58,1106.44) rotate(-45)" text-anchor="end" font-size="21" class="l">HubbardBrook_butterflies/moths</text>
<text transform="translate(726.34,1106.44) rotate(-45)" text-anchor="end" font-size="21" class="l">KonzaPrairie_gall insects</text>
<text transform="translate(775.1,1106.44) rotate(-45)" text-anchor="end" font-size="21" class="l">KonzaPrairie_grasshoppers</text>
<text transform="translate(823.86,1106.44) rotate(-45)" text-anchor="end" font-size="21" class="l">HarvardForest_ants</text>
<text transform="translate(872.62,1106.44) rotate(-45)" text-anchor="end" font-size="21" class="l">HarvardForest_ticks</text>
<text transform="translate(921.38,1106.44) rotate(-45)" text-anchor="end" font-size="21" class="l">CedarCreek_grasshoppers</text>
<text transform="translate(970.14,1106.44) rotate(-45)" text-anchor="end" font-size="21" class="l">CedarCreek_sweep net</text>
<text transform="translate(1018.9,1106.44) rotate(-45)" text-anchor="end" font-size="21" class="l">MidwestSTN_aphids</text>
<text transform="translate(1067.66,1106.44) rotate(-45)" text-anchor="end" font-size="21" class="l">Baltimore_mosquitoes</text>
<text transform="translate(1116.42,1106.44) rotate(-45)" text-anchor="end" font-size="21" class="l">GeorgiaCoastal_crabs</text>
<text transform="translate(1165.18,1106.44) rotate(-45)" text-anchor="end" font-size="21" class="l">GeorgiaCoastal_grasshoppers</text>
<text transform="translate(1213.94,1106.44) rotate(-45)" text-anchor="end" font-size="21" class="l">GeorgiaCoastal_planthoppers</text>
<text transform="translate(1262.7,1106.44) rotate(-45)" text-anchor="end" font-size="21" class="l">CentralArizona-Phoenix_pitfalls</text>
<text transform="translate(1311.46,1106.44) rotate(-45)" text-anchor="end" font-size="21" class="l">CentralArizona-Phoenix_sweep net</text>
<line x1="227" y1="1577.8" x2="1382.5" y2="1577.8" stroke="#000" stroke-width="2.4"/>
<line x1="293" y1="1519.1" x2="293" y2="1530.14" stroke="#000" stroke-width="3.0" stroke-dasharray="12.8,12"/>
<line x1="293" y1="1631.8" x2="293" y2="1605.98" stroke="#000" stroke-width="3.0" stroke-dasharray="12.8,12"/>
<line x1="283.25" y1="1519.1" x2="302.75" y2="1519.1" stroke="#000" stroke-width="3.0"/>
<line x1="283.25" y1="1631.8" x2="302.75" y2="1631.8" stroke="#000" stroke-width="3.0"/>
<rect x="273.5" y="1530.14" width="39" height="75.84" fill="#add8e6" stroke="#000" stroke-width="3.0" stroke-linejoin="round"/>
<line x1="273.5" y1="1539.29" x2="312.5" y2="1539.29" stroke="#000" stroke-width="8.5"/>
<line x1="341.76" y1="1583.67" x2="341.76" y2="1593.3" stroke="#000" stroke-width="3.0" stroke-dasharray="12.8,12"/>
<line x1="341.76" y1="1621.24" x2="341.76" y2="1612.08" stroke="#000" stroke-width="3.0" stroke-dasharray="12.8,12"/>
<line x1="332.01" y1="1583.67" x2="351.51" y2="1583.67" stroke="#000" stroke-width="3.0"/>
<line x1="332.01" y1="1621.24" x2="351.51" y2="1621.24" stroke="#000" stroke-width="3.0"/>
<rect x="322.26" y="1593.3" width="39" height="18.78" fill="#fff" stroke="#000" stroke-width="3.0" stroke-linejoin="round"/>
<line x1="322.26" y1="1603.16" x2="361.26" y2="1603.16" stroke="#000" stroke-width="8.5"/>
<line x1="380.77" y1="1609.5" x2="400.27" y2="1609.5" stroke="#000" stroke-width="3.0"/>
<line x1="380.77" y1="1609.5" x2="400.27" y2="1609.5" stroke="#000" stroke-width="3.0"/>
<rect x="371.02" y="1609.5" width="39" height="0" fill="#fff" stroke="#000" stroke-width="3.0" stroke-linejoin="round"/>
<line x1="371.02" y1="1609.5" x2="410.02" y2="1609.5" stroke="#000" stroke-width="8.5"/>
<line x1="429.53" y1="1507.83" x2="449.03" y2="1507.83" stroke="#000" stroke-width="3.0"/>
<line x1="429.53" y1="1650.59" x2="449.03" y2="1650.59" stroke="#000" stroke-width="3.0"/>
<rect x="419.78" y="1507.83" width="39" height="142.76" fill="#add8e6" stroke="#000" stroke-width="3.0" stroke-linejoin="round"/>
<line x1="419.78" y1="1579.44" x2="458.78" y2="1579.44" stroke="#000" stroke-width="8.5"/>
<line x1="488.04" y1="1505.48" x2="488.04" y2="1555.49" stroke="#000" stroke-width="3.0" stroke-dasharray="12.8,12"/>
<line x1="488.04" y1="1628.75" x2="488.04" y2="1593.77" stroke="#000" stroke-width="3.0" stroke-dasharray="12.8,12"/>
<line x1="478.29" y1="1505.48" x2="497.79" y2="1505.48" stroke="#000" stroke-width="3.0"/>
<line x1="478.29" y1="1628.75" x2="497.79" y2="1628.75" stroke="#000" stroke-width="3.0"/>
<rect x="468.54" y="1555.49" width="39" height="38.27" fill="#add8e6" stroke="#000" stroke-width="3.0" stroke-linejoin="round"/>
<line x1="468.54" y1="1573.57" x2="507.54" y2="1573.57" stroke="#000" stroke-width="8.5"/>
<rect x="485.54" y="1424.3" width="5" height="5" fill="none" stroke="#000" stroke-width="2.4"/>
<rect x="485.54" y="1452.59" width="5" height="5" fill="none" stroke="#000" stroke-width="2.4"/>
<rect x="485.54" y="1454.89" width="5" height="5" fill="none" stroke="#000" stroke-width="2.4"/>
<rect x="485.54" y="1456.89" width="5" height="5" fill="none" stroke="#000" stroke-width="2.4"/>
<rect x="485.54" y="1458.7" width="5" height="5" fill="none" stroke="#000" stroke-width="2.4"/>
<rect x="485.54" y="1461.49" width="5" height="5" fill="none" stroke="#000" stroke-width="2.4"/>
<rect x="485.54" y="1471" width="5" height="5" fill="none" stroke="#000" stroke-width="2.4"/>
<rect x="485.54" y="1472.9" width="5" height="5" fill="none" stroke="#000" stroke-width="2.4"/>
<rect x="485.54" y="1474.9" width="5" height="5" fill="none" stroke="#000" stroke-width="2.4"/>
<rect x="485.54" y="1476.9" width="5" height="5" fill="none" stroke="#000" stroke-width="2.4"/>
<rect x="485.54" y="1478.89" width="5" height="5" fill="none" stroke="#000" stroke-width="2.4"/>
<rect x="485.54" y="1480.91" width="5" height="5" fill="none" stroke="#000" stroke-width="2.4"/>
<rect x="485.54" y="1482.91" width="5" height="5" fill="none" stroke="#000" stroke-width="2.4"/>
<rect x="485.54" y="1484.9" width="5" height="5" fill="none" stroke="#000" stroke-width="2.4"/>
<rect x="485.54" y="1486.9" width="5" height="5" fill="none" stroke="#000" stroke-width="2.4"/>
<rect x="485.54" y="1488.89" width="5" height="5" fill="none" stroke="#000" stroke-width="2.4"/>
<rect x="485.54" y="1490.8" width="5" height="5" fill="none" stroke="#000" stroke-width="2.4"/>
<rect x="485.54" y="1494.51" width="5" height="5" fill="none" stroke="#000" stroke-width="2.4"/>
<rect x="485.54" y="1684.95" width="5" height="5" fill="none" stroke="#000" stroke-width="2.4"/>
<rect x="485.54" y="1699.04" width="5" height="5" fill="none" stroke="#000" stroke-width="2.4"/>
<line x1="536.8" y1="1513" x2="536.8" y2="1565.83" stroke="#000" stroke-width="3.0" stroke-dasharray="12.8,12"/>
<line x1="536.8" y1="1625.7" x2="536.8" y2="1609.5" stroke="#000" stroke-width="3.0" stroke-dasharray="12.8,12"/>
<line x1="527.05" y1="1513" x2="546.55" y2="1513" stroke="#000" stroke-width="3.0"/>
<line x1="527.05" y1="1625.7" x2="546.55" y2="1625.7" stroke="#000" stroke-width="3.0"/>
<rect x="517.3" y="1565.83" width="39" height="43.67" fill="#fff" stroke="#000" stroke-width="3.0" stroke-linejoin="round"/>
<line x1="517.3" y1="1603.63" x2="556.3" y2="1603.63" stroke="#000" stroke-width="8.5"/>
<line x1="585.56" y1="1516.05" x2="585.56" y2="1564.42" stroke="#000" stroke-width="3.0" stroke-dasharray="12.8,12"/>
<line x1="585.56" y1="1654.11" x2="585.56" y2="1609.03" stroke="#000" stroke-width="3.0" stroke-dasharray="12.8,12"/>
<line x1="575.81" y1="1516.05" x2="595.31" y2="1516.05" stroke="#000" stroke-width="3.0"/>
<line x1="575.81" y1="1654.11" x2="595.31" y2="1654.11" stroke="#000" stroke-width="3.0"/>
<rect x="566.06" y="1564.42" width="39" height="44.61" fill="#fff" stroke="#000" stroke-width="3.0" stroke-linejoin="round"/>
<line x1="566.06" y1="1594.47" x2="605.06" y2="1594.47" stroke="#000" stroke-width="8.5"/>
<rect x="583.06" y="1680.96" width="5" height="5" fill="none" stroke="#000" stroke-width="2.4"/>
<line x1="634.32" y1="1487.64" x2="634.32" y2="1537.88" stroke="#000" stroke-width="3.0" stroke-dasharray="12.8,12"/>
<line x1="634.32" y1="1658.57" x2="634.32" y2="1610.2" stroke="#000" stroke-width="3.0" stroke-dasharray="12.8,12"/>
<line x1="624.57" y1="1487.64" x2="644.07" y2="1487.64" stroke="#000" stroke-width="3.0"/>
<line x1="624.57" y1="1658.57" x2="644.07" y2="1658.57" stroke="#000" stroke-width="3.0"/>
<rect x="614.82" y="1537.88" width="39" height="72.32" fill="#fff" stroke="#000" stroke-width="3.0" stroke-linejoin="round"/>
<line x1="614.82" y1="1584.84" x2="653.82" y2="1584.84" stroke="#000" stroke-width="8.5"/>
<line x1="683.08" y1="1501.02" x2="683.08" y2="1519.33" stroke="#000" stroke-width="3.0" stroke-dasharray="12.8,12"/>
<line x1="683.08" y1="1596.82" x2="683.08" y2="1552.91" stroke="#000" stroke-width="3.0" stroke-dasharray="12.8,12"/>
<line x1="673.33" y1="1501.02" x2="692.83" y2="1501.02" stroke="#000" stroke-width="3.0"/>
<line x1="673.33" y1="1596.82" x2="692.83" y2="1596.82" stroke="#000" stroke-width="3.0"/>
<rect x="663.58" y="1519.33" width="39" height="33.58" fill="#fff" stroke="#000" stroke-width="3.0" stroke-linejoin="round"/>
<line x1="663.58" y1="1546.1" x2="702.58" y2="1546.1" stroke="#000" stroke-width="8.5"/>
<line x1="731.84" y1="1472.14" x2="731.84" y2="1531.54" stroke="#000" stroke-width="3.0" stroke-dasharray="12.8,12"/>
<line x1="731.84" y1="1657.16" x2="731.84" y2="1586.49" stroke="#000" stroke-width="3.0" stroke-dasharray="12.8,12"/>
<line x1="722.09" y1="1472.14" x2="741.59" y2="1472.14" stroke="#000" stroke-width="3.0"/>
<line x1="722.09" y1="1657.16" x2="741.59" y2="1657.16" stroke="#000" stroke-width="3.0"/>
<rect x="712.34" y="1531.54" width="39" height="54.94" fill="#fff" stroke="#000" stroke-width="3.0" stroke-linejoin="round"/>
<line x1="712.34" y1="1559.96" x2="751.34" y2="1559.96" stroke="#000" stroke-width="8.5"/>
<rect x="729.34" y="1444.75" width="5" height="5" fill="none" stroke="#000" stroke-width="2.4"/>
<rect x="729.34" y="1677.91" width="5" height="5" fill="none" stroke="#000" stroke-width="2.4"/>
<rect x="729.34" y="1692.93" width="5" height="5" fill="none" stroke="#000" stroke-width="2.4"/>
<line x1="780.6" y1="1484.58" x2="780.6" y2="1561.6" stroke="#000" stroke-width="3.0" stroke-dasharray="12.8,12"/>
<line x1="780.6" y1="1675.71" x2="780.6" y2="1613.72" stroke="#000" stroke-width="3.0" stroke-dasharray="12.8,12"/>
<line x1="770.85" y1="1484.58" x2="790.35" y2="1484.58" stroke="#000" stroke-width="3.0"/>
<line x1="770.85" y1="1675.71" x2="790.35" y2="1675.71" stroke="#000" stroke-width="3.0"/>
<rect x="761.1" y="1561.6" width="39" height="52.13" fill="#fff" stroke="#000" stroke-width="3.0" stroke-linejoin="round"/>
<line x1="761.1" y1="1589.54" x2="800.1" y2="1589.54" stroke="#000" stroke-width="8.5"/>
<rect x="778.1" y="1418.22" width="5" height="5" fill="none" stroke="#000" stroke-width="2.4"/>
<rect x="778.1" y="1430.43" width="5" height="5" fill="none" stroke="#000" stroke-width="2.4"/>
<rect x="778.1" y="1458.6" width="5" height="5" fill="none" stroke="#000" stroke-width="2.4"/>
<rect x="778.1" y="1479.5" width="5" height="5" fill="none" stroke="#000" stroke-width="2.4"/>
<line x1="829.36" y1="1502.66" x2="829.36" y2="1560.42" stroke="#000" stroke-width="3.0" stroke-dasharray="12.8,12"/>
<line x1="829.36" y1="1645.42" x2="829.36" y2="1640.49" stroke="#000" stroke-width="3.0" stroke-dasharray="12.8,12"/>
<line x1="819.61" y1="1502.66" x2="839.11" y2="1502.66" stroke="#000" stroke-width="3.0"/>
<line x1="819.61" y1="1645.42" x2="839.11" y2="1645.42" stroke="#000" stroke-width="3.0"/>
<rect x="809.86" y="1560.42" width="39" height="80.07" fill="#fff" stroke="#000" stroke-width="3.0" stroke-linejoin="round"/>
<line x1="809.86" y1="1577.8" x2="848.86" y2="1577.8" stroke="#000" stroke-width="8.5"/>
<line x1="878.12" y1="1529.43" x2="878.12" y2="1548.22" stroke="#000" stroke-width="3.0" stroke-dasharray="12.8,12"/>
<line x1="878.12" y1="1630.63" x2="878.12" y2="1601.51" stroke="#000" stroke-width="3.0" stroke-dasharray="12.8,12"/>
<line x1="868.37" y1="1529.43" x2="887.87" y2="1529.43" stroke="#000" stroke-width="3.0"/>
<line x1="868.37" y1="1630.63" x2="887.87" y2="1630.63" stroke="#000" stroke-width="3.0"/>
<rect x="858.62" y="1548.22" width="39" height="53.3" fill="#add8e6" stroke="#000" stroke-width="3.0" stroke-linejoin="round"/>
<line x1="858.62" y1="1588.13" x2="897.62" y2="1588.13" stroke="#000" stroke-width="8.5"/>
<line x1="917.13" y1="1586.72" x2="936.63" y2="1586.72" stroke="#000" stroke-width="3.0"/>
<line x1="917.13" y1="1586.72" x2="936.63" y2="1586.72" stroke="#000" stroke-width="3.0"/>
<rect x="907.38" y="1586.72" width="39" height="0" fill="#fff" stroke="#000" stroke-width="3.0" stroke-linejoin="round"/>
<line x1="907.38" y1="1586.72" x2="946.38" y2="1586.72" stroke="#000" stroke-width="8.5"/>
<line x1="975.64" y1="1514.4" x2="975.64" y2="1552.68" stroke="#000" stroke-width="3.0" stroke-dasharray="12.8,12"/>
<line x1="975.64" y1="1613.72" x2="975.64" y2="1578.27" stroke="#000" stroke-width="3.0" stroke-dasharray="12.8,12"/>
<line x1="965.89" y1="1514.4" x2="985.39" y2="1514.4" stroke="#000" stroke-width="3.0"/>
<line x1="965.89" y1="1613.72" x2="985.39" y2="1613.72" stroke="#000" stroke-width="3.0"/>
<rect x="956.14" y="1552.68" width="39" height="25.59" fill="#fff" stroke="#000" stroke-width="3.0" stroke-linejoin="round"/>
<line x1="956.14" y1="1562.3" x2="995.14" y2="1562.3" stroke="#000" stroke-width="8.5"/>
<rect x="973.14" y="1618.27" width="5" height="5" fill="none" stroke="#000" stroke-width="2.4"/>
<rect x="973.14" y="1619.91" width="5" height="5" fill="none" stroke="#000" stroke-width="2.4"/>
<rect x="973.14" y="1621.56" width="5" height="5" fill="none" stroke="#000" stroke-width="2.4"/>
<rect x="973.14" y="1632.83" width="5" height="5" fill="none" stroke="#000" stroke-width="2.4"/>
<line x1="1024.4" y1="1516.05" x2="1024.4" y2="1541.64" stroke="#000" stroke-width="3.0" stroke-dasharray="12.8,12"/>
<line x1="1024.4" y1="1671.95" x2="1024.4" y2="1595.18" stroke="#000" stroke-width="3.0" stroke-dasharray="12.8,12"/>
<line x1="1014.65" y1="1516.05" x2="1034.15" y2="1516.05" stroke="#000" stroke-width="3.0"/>
<line x1="1014.65" y1="1671.95" x2="1034.15" y2="1671.95" stroke="#000" stroke-width="3.0"/>
<rect x="1004.9" y="1541.64" width="39" height="53.53" fill="#fff" stroke="#000" stroke-width="3.0" stroke-linejoin="round"/>
<line x1="1004.9" y1="1569.11" x2="1043.9" y2="1569.11" stroke="#000" stroke-width="8.5"/>
<line x1="1073.16" y1="1517.22" x2="1073.16" y2="1573.1" stroke="#000" stroke-width="3.0" stroke-dasharray="12.8,12"/>
<line x1="1073.16" y1="1659.75" x2="1073.16" y2="1620.53" stroke="#000" stroke-width="3.0" stroke-dasharray="12.8,12"/>
<line x1="1063.41" y1="1517.22" x2="1082.91" y2="1517.22" stroke="#000" stroke-width="3.0"/>
<line x1="1063.41" y1="1659.75" x2="1082.91" y2="1659.75" stroke="#000" stroke-width="3.0"/>
<rect x="1053.66" y="1573.1" width="39" height="47.43" fill="#fff" stroke="#000" stroke-width="3.0" stroke-linejoin="round"/>
<line x1="1053.66" y1="1599.17" x2="1092.66" y2="1599.17" stroke="#000" stroke-width="8.5"/>
<line x1="1112.17" y1="1582.5" x2="1131.67" y2="1582.5" stroke="#000" stroke-width="3.0"/>
<line x1="1112.17" y1="1620.53" x2="1131.67" y2="1620.53" stroke="#000" stroke-width="3.0"/>
<rect x="1102.42" y="1582.5" width="39" height="38.04" fill="#fff" stroke="#000" stroke-width="3.0" stroke-linejoin="round"/>
<line x1="1102.42" y1="1601.51" x2="1141.42" y2="1601.51" stroke="#000" stroke-width="8.5"/>
<line x1="1170.68" y1="1490.69" x2="1170.68" y2="1546.34" stroke="#000" stroke-width="3.0" stroke-dasharray="12.8,12"/>
<line x1="1170.68" y1="1616.54" x2="1170.68" y2="1594" stroke="#000" stroke-width="3.0" stroke-dasharray="12.8,12"/>
<line x1="1160.93" y1="1490.69" x2="1180.43" y2="1490.69" stroke="#000" stroke-width="3.0"/>
<line x1="1160.93" y1="1616.54" x2="1180.43" y2="1616.54" stroke="#000" stroke-width="3.0"/>
<rect x="1151.18" y="1546.34" width="39" height="47.66" fill="#fff" stroke="#000" stroke-width="3.0" stroke-linejoin="round"/>
<line x1="1151.18" y1="1591.18" x2="1190.18" y2="1591.18" stroke="#000" stroke-width="8.5"/>
<line x1="1209.69" y1="1568.41" x2="1229.19" y2="1568.41" stroke="#000" stroke-width="3.0"/>
<line x1="1209.69" y1="1568.41" x2="1229.19" y2="1568.41" stroke="#000" stroke-width="3.0"/>
<rect x="1199.94" y="1568.41" width="39" height="0" fill="#fff" stroke="#000" stroke-width="3.0" stroke-linejoin="round"/>
<line x1="1199.94" y1="1568.41" x2="1238.94" y2="1568.41" stroke="#000" stroke-width="8.5"/>
<line x1="1268.2" y1="1501.02" x2="1268.2" y2="1561.36" stroke="#000" stroke-width="3.0" stroke-dasharray="12.8,12"/>
<line x1="1268.2" y1="1678.06" x2="1268.2" y2="1609.03" stroke="#000" stroke-width="3.0" stroke-dasharray="12.8,12"/>
<line x1="1258.45" y1="1501.02" x2="1277.95" y2="1501.02" stroke="#000" stroke-width="3.0"/>
<line x1="1258.45" y1="1678.06" x2="1277.95" y2="1678.06" stroke="#000" stroke-width="3.0"/>
<rect x="1248.7" y="1561.36" width="39" height="47.66" fill="#fff" stroke="#000" stroke-width="3.0" stroke-linejoin="round"/>
<line x1="1248.7" y1="1577.8" x2="1287.7" y2="1577.8" stroke="#000" stroke-width="8.5"/>
<rect x="1265.7" y="1680.4" width="5" height="5" fill="none" stroke="#000" stroke-width="2.4"/>
<rect x="1265.7" y="1683.89" width="5" height="5" fill="none" stroke="#000" stroke-width="2.4"/>
<rect x="1265.7" y="1685.4" width="5" height="5" fill="none" stroke="#000" stroke-width="2.4"/>
<rect x="1265.7" y="1686.9" width="5" height="5" fill="none" stroke="#000" stroke-width="2.4"/>
<rect x="1265.7" y="1688.71" width="5" height="5" fill="none" stroke="#000" stroke-width="2.4"/>
<line x1="1316.96" y1="1515.81" x2="1316.96" y2="1520.74" stroke="#000" stroke-width="3.0" stroke-dasharray="12.8,12"/>
<line x1="1316.96" y1="1626.87" x2="1316.96" y2="1563.71" stroke="#000" stroke-width="3.0" stroke-dasharray="12.8,12"/>
<line x1="1307.21" y1="1515.81" x2="1326.71" y2="1515.81" stroke="#000" stroke-width="3.0"/>
<line x1="1307.21" y1="1626.87" x2="1326.71" y2="1626.87" stroke="#000" stroke-width="3.0"/>
<rect x="1297.46" y="1520.74" width="39" height="42.97" fill="#fff" stroke="#000" stroke-width="3.0" stroke-linejoin="round"/>
<line x1="1297.46" y1="1541.17" x2="1336.46" y2="1541.17" stroke="#000" stroke-width="8.5"/>
<polyline points="269,1776 320.09,1703.5 371.18,1702.4 422.27,1623.7 473.36,1622.3 524.45,1609 575.54,1596.1 626.63,1596.4 677.72,1584 728.81,1584 779.9,1565.7 830.99,1533.1 882.08,1530 933.17,1528.5 984.26,1529 1035.35,1521.4 1086.44,1521.4 1137.53,1441.3 1188.62,1441.3 1239.71,1441.3 1290.8,1409.8 1341.89,1409.8" fill="none" stroke="#777" stroke-width="3.4" stroke-linejoin="round"/>
<line x1="227" y1="1389.96" x2="227" y2="1765.64" stroke="#000" stroke-width="3"/>
<line x1="216" y1="1765.64" x2="227" y2="1765.64" stroke="#000" stroke-width="3"/>
<text transform="translate(201.3,1765.64) rotate(-90)" text-anchor="middle" font-size="27" class="t">-8</text>
<line x1="216" y1="1718.68" x2="227" y2="1718.68" stroke="#000" stroke-width="3"/>
<text transform="translate(201.3,1718.68) rotate(-90)" text-anchor="middle" font-size="27" class="t">-6</text>
<line x1="216" y1="1671.72" x2="227" y2="1671.72" stroke="#000" stroke-width="3"/>
<text transform="translate(201.3,1671.72) rotate(-90)" text-anchor="middle" font-size="27" class="t">-4</text>
<line x1="216" y1="1624.76" x2="227" y2="1624.76" stroke="#000" stroke-width="3"/>
<text transform="translate(201.3,1624.76) rotate(-90)" text-anchor="middle" font-size="27" class="t">-2</text>
<line x1="216" y1="1577.8" x2="227" y2="1577.8" stroke="#000" stroke-width="3"/>
<text transform="translate(201.3,1577.8) rotate(-90)" text-anchor="middle" font-size="27" class="t">0</text>
<line x1="216" y1="1530.84" x2="227" y2="1530.84" stroke="#000" stroke-width="3"/>
<text transform="translate(201.3,1530.84) rotate(-90)" text-anchor="middle" font-size="27" class="t">2</text>
<line x1="216" y1="1483.88" x2="227" y2="1483.88" stroke="#000" stroke-width="3"/>
<text transform="translate(201.3,1483.88) rotate(-90)" text-anchor="middle" font-size="27" class="t">4</text>
<line x1="216" y1="1436.92" x2="227" y2="1436.92" stroke="#000" stroke-width="3"/>
<text transform="translate(201.3,1436.92) rotate(-90)" text-anchor="middle" font-size="27" class="t">6</text>
<line x1="216" y1="1389.96" x2="227" y2="1389.96" stroke="#000" stroke-width="3"/>
<text transform="translate(201.3,1389.96) rotate(-90)" text-anchor="middle" font-size="27" class="t">8</text>
<text transform="translate(159.5,1577.8) rotate(-90)" text-anchor="middle" font-size="35.5">Change in abundance</text>
<line x1="1382.5" y1="1389.96" x2="1382.5" y2="1765.64" stroke="#000" stroke-width="3"/>
<line x1="1382.5" y1="1765.64" x2="1394.5" y2="1765.64" stroke="#000" stroke-width="3"/>
<line x1="1382.5" y1="1718.68" x2="1394.5" y2="1718.68" stroke="#000" stroke-width="3"/>
<line x1="1382.5" y1="1671.72" x2="1394.5" y2="1671.72" stroke="#000" stroke-width="3"/>
<line x1="1382.5" y1="1624.76" x2="1394.5" y2="1624.76" stroke="#000" stroke-width="3"/>
<line x1="1382.5" y1="1577.8" x2="1394.5" y2="1577.8" stroke="#000" stroke-width="3"/>
<line x1="1382.5" y1="1530.84" x2="1394.5" y2="1530.84" stroke="#000" stroke-width="3"/>
<line x1="1382.5" y1="1483.88" x2="1394.5" y2="1483.88" stroke="#000" stroke-width="3"/>
<line x1="1382.5" y1="1436.92" x2="1394.5" y2="1436.92" stroke="#000" stroke-width="3"/>
<line x1="1382.5" y1="1389.96" x2="1394.5" y2="1389.96" stroke="#000" stroke-width="3"/>
<text transform="translate(1423.4,1765.64) rotate(-90)" text-anchor="middle" font-size="27" class="t">-8</text>
<text transform="translate(1423.4,1718.68) rotate(-90)" text-anchor="middle" font-size="27" class="t">-4</text>
<text transform="translate(1423.4,1671.72) rotate(-90)" text-anchor="middle" font-size="27" class="t">0</text>
<text transform="translate(1423.4,1624.76) rotate(-90)" text-anchor="middle" font-size="27" class="t">4</text>
<text transform="translate(1423.4,1577.8) rotate(-90)" text-anchor="middle" font-size="27" class="t">8</text>
<text transform="translate(1423.4,1530.84) rotate(-90)" text-anchor="middle" font-size="27" class="t">12</text>
<text transform="translate(1423.4,1436.92) rotate(-90)" text-anchor="middle" font-size="27" class="t">20</text>
<text transform="translate(1466.5,1577.8) rotate(-90)" text-anchor="middle" font-size="36">Mean annual temperature</text>
<text x="247" y="1444.5" font-size="75" font-weight="bold">C</text>
<text transform="translate(287.5,1790.14) rotate(-45)" text-anchor="end" font-size="21" class="l">Arctic_stream insects</text>
<text transform="translate(336.26,1790.14) rotate(-45)" text-anchor="end" font-size="21" class="l">BonanzaCreek_bark beetles</text>
<text transform="translate(385.02,1790.14) rotate(-45)" text-anchor="end" font-size="21" class="l">BonanzaCreek_leaf miners</text>
<text transform="translate(433.78,1790.14) rotate(-45)" text-anchor="end" font-size="21" class="l">NorthTemperateLakes_crayfish</text>
<text transform="translate(482.54,1790.14) rotate(-45)" text-anchor="end" font-size="21" class="l">NorthTemperateLakes_lake insects</text>
<text transform="translate(531.3,1790.14) rotate(-45)" text-anchor="end" font-size="21" class="l">HubbardBrook_butterflies/moths</text>
<text transform="translate(580.06,1790.14) rotate(-45)" text-anchor="end" font-size="21" class="l">CedarCreek_grasshoppers</text>
<text transform="translate(628.82,1790.14) rotate(-45)" text-anchor="end" font-size="21" class="l">CedarCreek_sweep net</text>
<text transform="translate(677.58,1790.14) rotate(-45)" text-anchor="end" font-size="21" class="l">HarvardForest_ants</text>
<text transform="translate(726.34,1790.14) rotate(-45)" text-anchor="end" font-size="21" class="l">HarvardForest_ticks</text>
<text transform="translate(775.1,1790.14) rotate(-45)" text-anchor="end" font-size="21" class="l">MidwestSTN_aphids</text>
<text transform="translate(823.86,1790.14) rotate(-45)" text-anchor="end" font-size="21" class="l">Baltimore_mosquitoes</text>
<text transform="translate(872.62,1790.14) rotate(-45)" text-anchor="end" font-size="21" class="l">Coweeta_stream insects</text>
<text transform="translate(921.38,1790.14) rotate(-45)" text-anchor="end" font-size="21" class="l">KonzaPrairie_gall insects</text>
<text transform="translate(970.14,1790.14) rotate(-45)" text-anchor="end" font-size="21" class="l">KonzaPrairie_grasshoppers</text>
<text transform="translate(1018.9,1790.14) rotate(-45)" text-anchor="end" font-size="21" class="l">Sevilleta_grasshoppers</text>
<text transform="translate(1067.66,1790.14) rotate(-45)" text-anchor="end" font-size="21" class="l">Sevilleta_pitfall</text>
<text transform="translate(1116.42,1790.14) rotate(-45)" text-anchor="end" font-size="21" class="l">GeorgiaCoastal_crabs</text>
<text transform="translate(1165.18,1790.14) rotate(-45)" text-anchor="end" font-size="21" class="l">GeorgiaCoastal_grasshoppers</text>
<text transform="translate(1213.94,1790.14) rotate(-45)" text-anchor="end" font-size="21" class="l">GeorgiaCoastal_planthoppers</text>
<text transform="translate(1262.7,1790.14) rotate(-45)" text-anchor="end" font-size="21" class="l">CentralArizona-Phoenix_pitfalls</text>
<text transform="translate(1311.46,1790.14) rotate(-45)" text-anchor="end" font-size="21" class="l">CentralArizona-Phoenix_sweep net</text>
<line x1="227" y1="2257" x2="1382.5" y2="2257" stroke="#000" stroke-width="2.4"/>
<line x1="293" y1="2180.22" x2="293" y2="2240.56" stroke="#000" stroke-width="3.0" stroke-dasharray="12.8,12"/>
<line x1="293" y1="2357.26" x2="293" y2="2288.23" stroke="#000" stroke-width="3.0" stroke-dasharray="12.8,12"/>
<line x1="283.25" y1="2180.22" x2="302.75" y2="2180.22" stroke="#000" stroke-width="3.0"/>
<line x1="283.25" y1="2357.26" x2="302.75" y2="2357.26" stroke="#000" stroke-width="3.0"/>
<rect x="273.5" y="2240.56" width="39" height="47.66" fill="#fff" stroke="#000" stroke-width="3.0" stroke-linejoin="round"/>
<line x1="273.5" y1="2257" x2="312.5" y2="2257" stroke="#000" stroke-width="8.5"/>
<rect x="290.5" y="2359.6" width="5" height="5" fill="none" stroke="#000" stroke-width="2.4"/>
<rect x="290.5" y="2363.09" width="5" height="5" fill="none" stroke="#000" stroke-width="2.4"/>
<rect x="290.5" y="2364.6" width="5" height="5" fill="none" stroke="#000" stroke-width="2.4"/>
<rect x="290.5" y="2366.1" width="5" height="5" fill="none" stroke="#000" stroke-width="2.4"/>
<rect x="290.5" y="2367.91" width="5" height="5" fill="none" stroke="#000" stroke-width="2.4"/>
<line x1="341.76" y1="2195.01" x2="341.76" y2="2199.94" stroke="#000" stroke-width="3.0" stroke-dasharray="12.8,12"/>
<line x1="341.76" y1="2306.07" x2="341.76" y2="2242.91" stroke="#000" stroke-width="3.0" stroke-dasharray="12.8,12"/>
<line x1="332.01" y1="2195.01" x2="351.51" y2="2195.01" stroke="#000" stroke-width="3.0"/>
<line x1="332.01" y1="2306.07" x2="351.51" y2="2306.07" stroke="#000" stroke-width="3.0"/>
<rect x="322.26" y="2199.94" width="39" height="42.97" fill="#fff" stroke="#000" stroke-width="3.0" stroke-linejoin="round"/>
<line x1="322.26" y1="2220.37" x2="361.26" y2="2220.37" stroke="#000" stroke-width="8.5"/>
<line x1="390.52" y1="2198.3" x2="390.52" y2="2209.34" stroke="#000" stroke-width="3.0" stroke-dasharray="12.8,12"/>
<line x1="390.52" y1="2311" x2="390.52" y2="2285.18" stroke="#000" stroke-width="3.0" stroke-dasharray="12.8,12"/>
<line x1="380.77" y1="2198.3" x2="400.27" y2="2198.3" stroke="#000" stroke-width="3.0"/>
<line x1="380.77" y1="2311" x2="400.27" y2="2311" stroke="#000" stroke-width="3.0"/>
<rect x="371.02" y="2209.34" width="39" height="75.84" fill="#add8e6" stroke="#000" stroke-width="3.0" stroke-linejoin="round"/>
<line x1="371.02" y1="2218.49" x2="410.02" y2="2218.49" stroke="#000" stroke-width="8.5"/>
<line x1="439.28" y1="2195.25" x2="439.28" y2="2220.84" stroke="#000" stroke-width="3.0" stroke-dasharray="12.8,12"/>
<line x1="439.28" y1="2351.15" x2="439.28" y2="2274.38" stroke="#000" stroke-width="3.0" stroke-dasharray="12.8,12"/>
<line x1="429.53" y1="2195.25" x2="449.03" y2="2195.25" stroke="#000" stroke-width="3.0"/>
<line x1="429.53" y1="2351.15" x2="449.03" y2="2351.15" stroke="#000" stroke-width="3.0"/>
<rect x="419.78" y="2220.84" width="39" height="53.53" fill="#fff" stroke="#000" stroke-width="3.0" stroke-linejoin="round"/>
<line x1="419.78" y1="2248.31" x2="458.78" y2="2248.31" stroke="#000" stroke-width="8.5"/>
<line x1="488.04" y1="2196.42" x2="488.04" y2="2252.3" stroke="#000" stroke-width="3.0" stroke-dasharray="12.8,12"/>
<line x1="488.04" y1="2338.95" x2="488.04" y2="2299.73" stroke="#000" stroke-width="3.0" stroke-dasharray="12.8,12"/>
<line x1="478.29" y1="2196.42" x2="497.79" y2="2196.42" stroke="#000" stroke-width="3.0"/>
<line x1="478.29" y1="2338.95" x2="497.79" y2="2338.95" stroke="#000" stroke-width="3.0"/>
<rect x="468.54" y="2252.3" width="39" height="47.43" fill="#fff" stroke="#000" stroke-width="3.0" stroke-linejoin="round"/>
<line x1="468.54" y1="2278.37" x2="507.54" y2="2278.37" stroke="#000" stroke-width="8.5"/>
<line x1="536.8" y1="2262.87" x2="536.8" y2="2272.5" stroke="#000" stroke-width="3.0" stroke-dasharray="12.8,12"/>
<line x1="536.8" y1="2300.44" x2="536.8" y2="2291.28" stroke="#000" stroke-width="3.0" stroke-dasharray="12.8,12"/>
<line x1="527.05" y1="2262.87" x2="546.55" y2="2262.87" stroke="#000" stroke-width="3.0"/>
<line x1="527.05" y1="2300.44" x2="546.55" y2="2300.44" stroke="#000" stroke-width="3.0"/>
<rect x="517.3" y="2272.5" width="39" height="18.78" fill="#fff" stroke="#000" stroke-width="3.0" stroke-linejoin="round"/>
<line x1="517.3" y1="2282.36" x2="556.3" y2="2282.36" stroke="#000" stroke-width="8.5"/>
<line x1="575.81" y1="2288.7" x2="595.31" y2="2288.7" stroke="#000" stroke-width="3.0"/>
<line x1="575.81" y1="2288.7" x2="595.31" y2="2288.7" stroke="#000" stroke-width="3.0"/>
<rect x="566.06" y="2288.7" width="39" height="0" fill="#fff" stroke="#000" stroke-width="3.0" stroke-linejoin="round"/>
<line x1="566.06" y1="2288.7" x2="605.06" y2="2288.7" stroke="#000" stroke-width="8.5"/>
<line x1="634.32" y1="2195.25" x2="634.32" y2="2243.62" stroke="#000" stroke-width="3.0" stroke-dasharray="12.8,12"/>
<line x1="634.32" y1="2333.31" x2="634.32" y2="2288.23" stroke="#000" stroke-width="3.0" stroke-dasharray="12.8,12"/>
<line x1="624.57" y1="2195.25" x2="644.07" y2="2195.25" stroke="#000" stroke-width="3.0"/>
<line x1="624.57" y1="2333.31" x2="644.07" y2="2333.31" stroke="#000" stroke-width="3.0"/>
<rect x="614.82" y="2243.62" width="39" height="44.61" fill="#fff" stroke="#000" stroke-width="3.0" stroke-linejoin="round"/>
<line x1="614.82" y1="2273.67" x2="653.82" y2="2273.67" stroke="#000" stroke-width="8.5"/>
<rect x="631.82" y="2360.16" width="5" height="5" fill="none" stroke="#000" stroke-width="2.4"/>
<line x1="683.08" y1="2166.84" x2="683.08" y2="2217.08" stroke="#000" stroke-width="3.0" stroke-dasharray="12.8,12"/>
<line x1="683.08" y1="2337.77" x2="683.08" y2="2289.4" stroke="#000" stroke-width="3.0" stroke-dasharray="12.8,12"/>
<line x1="673.33" y1="2166.84" x2="692.83" y2="2166.84" stroke="#000" stroke-width="3.0"/>
<line x1="673.33" y1="2337.77" x2="692.83" y2="2337.77" stroke="#000" stroke-width="3.0"/>
<rect x="663.58" y="2217.08" width="39" height="72.32" fill="#fff" stroke="#000" stroke-width="3.0" stroke-linejoin="round"/>
<line x1="663.58" y1="2264.04" x2="702.58" y2="2264.04" stroke="#000" stroke-width="8.5"/>
<line x1="722.09" y1="2187.03" x2="741.59" y2="2187.03" stroke="#000" stroke-width="3.0"/>
<line x1="722.09" y1="2329.79" x2="741.59" y2="2329.79" stroke="#000" stroke-width="3.0"/>
<rect x="712.34" y="2187.03" width="39" height="142.76" fill="#add8e6" stroke="#000" stroke-width="3.0" stroke-linejoin="round"/>
<line x1="712.34" y1="2258.64" x2="751.34" y2="2258.64" stroke="#000" stroke-width="8.5"/>
<line x1="780.6" y1="2184.68" x2="780.6" y2="2234.69" stroke="#000" stroke-width="3.0" stroke-dasharray="12.8,12"/>
<line x1="780.6" y1="2307.95" x2="780.6" y2="2272.97" stroke="#000" stroke-width="3.0" stroke-dasharray="12.8,12"/>
<line x1="770.85" y1="2184.68" x2="790.35" y2="2184.68" stroke="#000" stroke-width="3.0"/>
<line x1="770.85" y1="2307.95" x2="790.35" y2="2307.95" stroke="#000" stroke-width="3.0"/>
<rect x="761.1" y="2234.69" width="39" height="38.27" fill="#add8e6" stroke="#000" stroke-width="3.0" stroke-linejoin="round"/>
<line x1="761.1" y1="2252.77" x2="800.1" y2="2252.77" stroke="#000" stroke-width="8.5"/>
<rect x="778.1" y="2103.5" width="5" height="5" fill="none" stroke="#000" stroke-width="2.4"/>
<rect x="778.1" y="2131.79" width="5" height="5" fill="none" stroke="#000" stroke-width="2.4"/>
<rect x="778.1" y="2134.09" width="5" height="5" fill="none" stroke="#000" stroke-width="2.4"/>
<rect x="778.1" y="2136.09" width="5" height="5" fill="none" stroke="#000" stroke-width="2.4"/>
<rect x="778.1" y="2137.9" width="5" height="5" fill="none" stroke="#000" stroke-width="2.4"/>
<rect x="778.1" y="2140.69" width="5" height="5" fill="none" stroke="#000" stroke-width="2.4"/>
<rect x="778.1" y="2150.2" width="5" height="5" fill="none" stroke="#000" stroke-width="2.4"/>
<rect x="778.1" y="2152.1" width="5" height="5" fill="none" stroke="#000" stroke-width="2.4"/>
<rect x="778.1" y="2154.1" width="5" height="5" fill="none" stroke="#000" stroke-width="2.4"/>
<rect x="778.1" y="2156.1" width="5" height="5" fill="none" stroke="#000" stroke-width="2.4"/>
<rect x="778.1" y="2158.09" width="5" height="5" fill="none" stroke="#000" stroke-width="2.4"/>
<rect x="778.1" y="2160.11" width="5" height="5" fill="none" stroke="#000" stroke-width="2.4"/>
<rect x="778.1" y="2162.11" width="5" height="5" fill="none" stroke="#000" stroke-width="2.4"/>
<rect x="778.1" y="2164.1" width="5" height="5" fill="none" stroke="#000" stroke-width="2.4"/>
<rect x="778.1" y="2166.1" width="5" height="5" fill="none" stroke="#000" stroke-width="2.4"/>
<rect x="778.1" y="2168.09" width="5" height="5" fill="none" stroke="#000" stroke-width="2.4"/>
<rect x="778.1" y="2170" width="5" height="5" fill="none" stroke="#000" stroke-width="2.4"/>
<rect x="778.1" y="2173.71" width="5" height="5" fill="none" stroke="#000" stroke-width="2.4"/>
<rect x="778.1" y="2364.15" width="5" height="5" fill="none" stroke="#000" stroke-width="2.4"/>
<rect x="778.1" y="2378.24" width="5" height="5" fill="none" stroke="#000" stroke-width="2.4"/>
<line x1="819.61" y1="2265.92" x2="839.11" y2="2265.92" stroke="#000" stroke-width="3.0"/>
<line x1="819.61" y1="2265.92" x2="839.11" y2="2265.92" stroke="#000" stroke-width="3.0"/>
<rect x="809.86" y="2265.92" width="39" height="0" fill="#fff" stroke="#000" stroke-width="3.0" stroke-linejoin="round"/>
<line x1="809.86" y1="2265.92" x2="848.86" y2="2265.92" stroke="#000" stroke-width="8.5"/>
<line x1="878.12" y1="2193.6" x2="878.12" y2="2231.88" stroke="#000" stroke-width="3.0" stroke-dasharray="12.8,12"/>
<line x1="878.12" y1="2292.92" x2="878.12" y2="2257.47" stroke="#000" stroke-width="3.0" stroke-dasharray="12.8,12"/>
<line x1="868.37" y1="2193.6" x2="887.87" y2="2193.6" stroke="#000" stroke-width="3.0"/>
<line x1="868.37" y1="2292.92" x2="887.87" y2="2292.92" stroke="#000" stroke-width="3.0"/>
<rect x="858.62" y="2231.88" width="39" height="25.59" fill="#fff" stroke="#000" stroke-width="3.0" stroke-linejoin="round"/>
<line x1="858.62" y1="2241.5" x2="897.62" y2="2241.5" stroke="#000" stroke-width="8.5"/>
<rect x="875.62" y="2297.47" width="5" height="5" fill="none" stroke="#000" stroke-width="2.4"/>
<rect x="875.62" y="2299.11" width="5" height="5" fill="none" stroke="#000" stroke-width="2.4"/>
<rect x="875.62" y="2300.76" width="5" height="5" fill="none" stroke="#000" stroke-width="2.4"/>
<rect x="875.62" y="2312.03" width="5" height="5" fill="none" stroke="#000" stroke-width="2.4"/>
<line x1="926.88" y1="2163.78" x2="926.88" y2="2240.8" stroke="#000" stroke-width="3.0" stroke-dasharray="12.8,12"/>
<line x1="926.88" y1="2354.91" x2="926.88" y2="2292.92" stroke="#000" stroke-width="3.0" stroke-dasharray="12.8,12"/>
<line x1="917.13" y1="2163.78" x2="936.63" y2="2163.78" stroke="#000" stroke-width="3.0"/>
<line x1="917.13" y1="2354.91" x2="936.63" y2="2354.91" stroke="#000" stroke-width="3.0"/>
<rect x="907.38" y="2240.8" width="39" height="52.13" fill="#fff" stroke="#000" stroke-width="3.0" stroke-linejoin="round"/>
<line x1="907.38" y1="2268.74" x2="946.38" y2="2268.74" stroke="#000" stroke-width="8.5"/>
<rect x="924.38" y="2097.42" width="5" height="5" fill="none" stroke="#000" stroke-width="2.4"/>
<rect x="924.38" y="2109.63" width="5" height="5" fill="none" stroke="#000" stroke-width="2.4"/>
<rect x="924.38" y="2137.8" width="5" height="5" fill="none" stroke="#000" stroke-width="2.4"/>
<rect x="924.38" y="2158.7" width="5" height="5" fill="none" stroke="#000" stroke-width="2.4"/>
<line x1="975.64" y1="2180.22" x2="975.64" y2="2198.53" stroke="#000" stroke-width="3.0" stroke-dasharray="12.8,12"/>
<line x1="975.64" y1="2276.02" x2="975.64" y2="2232.11" stroke="#000" stroke-width="3.0" stroke-dasharray="12.8,12"/>
<line x1="965.89" y1="2180.22" x2="985.39" y2="2180.22" stroke="#000" stroke-width="3.0"/>
<line x1="965.89" y1="2276.02" x2="985.39" y2="2276.02" stroke="#000" stroke-width="3.0"/>
<rect x="956.14" y="2198.53" width="39" height="33.58" fill="#fff" stroke="#000" stroke-width="3.0" stroke-linejoin="round"/>
<line x1="956.14" y1="2225.3" x2="995.14" y2="2225.3" stroke="#000" stroke-width="8.5"/>
<line x1="1024.4" y1="2151.34" x2="1024.4" y2="2210.74" stroke="#000" stroke-width="3.0" stroke-dasharray="12.8,12"/>
<line x1="1024.4" y1="2336.36" x2="1024.4" y2="2265.69" stroke="#000" stroke-width="3.0" stroke-dasharray="12.8,12"/>
<line x1="1014.65" y1="2151.34" x2="1034.15" y2="2151.34" stroke="#000" stroke-width="3.0"/>
<line x1="1014.65" y1="2336.36" x2="1034.15" y2="2336.36" stroke="#000" stroke-width="3.0"/>
<rect x="1004.9" y="2210.74" width="39" height="54.94" fill="#fff" stroke="#000" stroke-width="3.0" stroke-linejoin="round"/>
<line x1="1004.9" y1="2239.16" x2="1043.9" y2="2239.16" stroke="#000" stroke-width="8.5"/>
<rect x="1021.9" y="2123.95" width="5" height="5" fill="none" stroke="#000" stroke-width="2.4"/>
<rect x="1021.9" y="2357.11" width="5" height="5" fill="none" stroke="#000" stroke-width="2.4"/>
<rect x="1021.9" y="2372.13" width="5" height="5" fill="none" stroke="#000" stroke-width="2.4"/>
<line x1="1073.16" y1="2192.2" x2="1073.16" y2="2245.03" stroke="#000" stroke-width="3.0" stroke-dasharray="12.8,12"/>
<line x1="1073.16" y1="2304.9" x2="1073.16" y2="2288.7" stroke="#000" stroke-width="3.0" stroke-dasharray="12.8,12"/>
<line x1="1063.41" y1="2192.2" x2="1082.91" y2="2192.2" stroke="#000" stroke-width="3.0"/>
<line x1="1063.41" y1="2304.9" x2="1082.91" y2="2304.9" stroke="#000" stroke-width="3.0"/>
<rect x="1053.66" y="2245.03" width="39" height="43.67" fill="#fff" stroke="#000" stroke-width="3.0" stroke-linejoin="round"/>
<line x1="1053.66" y1="2282.83" x2="1092.66" y2="2282.83" stroke="#000" stroke-width="8.5"/>
<line x1="1121.92" y1="2181.86" x2="1121.92" y2="2239.62" stroke="#000" stroke-width="3.0" stroke-dasharray="12.8,12"/>
<line x1="1121.92" y1="2324.62" x2="1121.92" y2="2319.69" stroke="#000" stroke-width="3.0" stroke-dasharray="12.8,12"/>
<line x1="1112.17" y1="2181.86" x2="1131.67" y2="2181.86" stroke="#000" stroke-width="3.0"/>
<line x1="1112.17" y1="2324.62" x2="1131.67" y2="2324.62" stroke="#000" stroke-width="3.0"/>
<rect x="1102.42" y="2239.62" width="39" height="80.07" fill="#fff" stroke="#000" stroke-width="3.0" stroke-linejoin="round"/>
<line x1="1102.42" y1="2257" x2="1141.42" y2="2257" stroke="#000" stroke-width="8.5"/>
<line x1="1160.93" y1="2261.7" x2="1180.43" y2="2261.7" stroke="#000" stroke-width="3.0"/>
<line x1="1160.93" y1="2299.73" x2="1180.43" y2="2299.73" stroke="#000" stroke-width="3.0"/>
<rect x="1151.18" y="2261.7" width="39" height="38.04" fill="#fff" stroke="#000" stroke-width="3.0" stroke-linejoin="round"/>
<line x1="1151.18" y1="2280.71" x2="1190.18" y2="2280.71" stroke="#000" stroke-width="8.5"/>
<line x1="1219.44" y1="2169.89" x2="1219.44" y2="2225.54" stroke="#000" stroke-width="3.0" stroke-dasharray="12.8,12"/>
<line x1="1219.44" y1="2295.74" x2="1219.44" y2="2273.2" stroke="#000" stroke-width="3.0" stroke-dasharray="12.8,12"/>
<line x1="1209.69" y1="2169.89" x2="1229.19" y2="2169.89" stroke="#000" stroke-width="3.0"/>
<line x1="1209.69" y1="2295.74" x2="1229.19" y2="2295.74" stroke="#000" stroke-width="3.0"/>
<rect x="1199.94" y="2225.54" width="39" height="47.66" fill="#fff" stroke="#000" stroke-width="3.0" stroke-linejoin="round"/>
<line x1="1199.94" y1="2270.38" x2="1238.94" y2="2270.38" stroke="#000" stroke-width="8.5"/>
<line x1="1258.45" y1="2247.61" x2="1277.95" y2="2247.61" stroke="#000" stroke-width="3.0"/>
<line x1="1258.45" y1="2247.61" x2="1277.95" y2="2247.61" stroke="#000" stroke-width="3.0"/>
<rect x="1248.7" y="2247.61" width="39" height="0" fill="#fff" stroke="#000" stroke-width="3.0" stroke-linejoin="round"/>
<line x1="1248.7" y1="2247.61" x2="1287.7" y2="2247.61" stroke="#000" stroke-width="8.5"/>
<line x1="1316.96" y1="2208.63" x2="1316.96" y2="2227.42" stroke="#000" stroke-width="3.0" stroke-dasharray="12.8,12"/>
<line x1="1316.96" y1="2309.83" x2="1316.96" y2="2280.71" stroke="#000" stroke-width="3.0" stroke-dasharray="12.8,12"/>
<line x1="1307.21" y1="2208.63" x2="1326.71" y2="2208.63" stroke="#000" stroke-width="3.0"/>
<line x1="1307.21" y1="2309.83" x2="1326.71" y2="2309.83" stroke="#000" stroke-width="3.0"/>
<rect x="1297.46" y="2227.42" width="39" height="53.3" fill="#add8e6" stroke="#000" stroke-width="3.0" stroke-linejoin="round"/>
<line x1="1297.46" y1="2267.33" x2="1336.46" y2="2267.33" stroke="#000" stroke-width="8.5"/>
<polyline points="269,2441 320.09,2441 371.18,2436 422.27,2432.5 473.36,2432.5 524.45,2422.5 575.54,2422.5 626.63,2315.6 677.72,2315.6 728.81,2299.6 779.9,2299.6 830.99,2284.4 882.08,2284.4 933.17,2284 984.26,2232 1035.35,2232 1086.44,2223.7 1137.53,2223.7 1188.62,2186.4 1239.71,2186.4 1290.8,2186.4 1341.89,2063.5" fill="none" stroke="#777" stroke-width="3.4" stroke-linejoin="round"/>
<line x1="227" y1="2069.16" x2="227" y2="2444.84" stroke="#000" stroke-width="3"/>
<line x1="216" y1="2444.84" x2="227" y2="2444.84" stroke="#000" stroke-width="3"/>
<text transform="translate(201.3,2444.84) rotate(-90)" text-anchor="middle" font-size="27" class="t">-8</text>
<line x1="216" y1="2397.88" x2="227" y2="2397.88" stroke="#000" stroke-width="3"/>
<text transform="translate(201.3,2397.88) rotate(-90)" text-anchor="middle" font-size="27" class="t">-6</text>
<line x1="216" y1="2350.92" x2="227" y2="2350.92" stroke="#000" stroke-width="3"/>
<text transform="translate(201.3,2350.92) rotate(-90)" text-anchor="middle" font-size="27" class="t">-4</text>
<line x1="216" y1="2303.96" x2="227" y2="2303.96" stroke="#000" stroke-width="3"/>
<text transform="translate(201.3,2303.96) rotate(-90)" text-anchor="middle" font-size="27" class="t">-2</text>
<line x1="216" y1="2257" x2="227" y2="2257" stroke="#000" stroke-width="3"/>
<text transform="translate(201.3,2257) rotate(-90)" text-anchor="middle" font-size="27" class="t">0</text>
<line x1="216" y1="2210.04" x2="227" y2="2210.04" stroke="#000" stroke-width="3"/>
<text transform="translate(201.3,2210.04) rotate(-90)" text-anchor="middle" font-size="27" class="t">2</text>
<line x1="216" y1="2163.08" x2="227" y2="2163.08" stroke="#000" stroke-width="3"/>
<text transform="translate(201.3,2163.08) rotate(-90)" text-anchor="middle" font-size="27" class="t">4</text>
<line x1="216" y1="2116.12" x2="227" y2="2116.12" stroke="#000" stroke-width="3"/>
<text transform="translate(201.3,2116.12) rotate(-90)" text-anchor="middle" font-size="27" class="t">6</text>
<line x1="216" y1="2069.16" x2="227" y2="2069.16" stroke="#000" stroke-width="3"/>
<text transform="translate(201.3,2069.16) rotate(-90)" text-anchor="middle" font-size="27" class="t">8</text>
<text transform="translate(159.5,2257) rotate(-90)" text-anchor="middle" font-size="35.5">Change in abundance</text>
<line x1="1382.5" y1="2069.16" x2="1382.5" y2="2444.84" stroke="#000" stroke-width="3"/>
<line x1="1382.5" y1="2444.84" x2="1394.5" y2="2444.84" stroke="#000" stroke-width="3"/>
<line x1="1382.5" y1="2397.88" x2="1394.5" y2="2397.88" stroke="#000" stroke-width="3"/>
<line x1="1382.5" y1="2350.92" x2="1394.5" y2="2350.92" stroke="#000" stroke-width="3"/>
<line x1="1382.5" y1="2303.96" x2="1394.5" y2="2303.96" stroke="#000" stroke-width="3"/>
<line x1="1382.5" y1="2257" x2="1394.5" y2="2257" stroke="#000" stroke-width="3"/>
<line x1="1382.5" y1="2210.04" x2="1394.5" y2="2210.04" stroke="#000" stroke-width="3"/>
<line x1="1382.5" y1="2163.08" x2="1394.5" y2="2163.08" stroke="#000" stroke-width="3"/>
<line x1="1382.5" y1="2116.12" x2="1394.5" y2="2116.12" stroke="#000" stroke-width="3"/>
<line x1="1382.5" y1="2069.16" x2="1394.5" y2="2069.16" stroke="#000" stroke-width="3"/>
<text transform="translate(1423.4,2444.84) rotate(-90)" text-anchor="middle" font-size="27" class="t">200</text>
<text transform="translate(1423.4,2350.92) rotate(-90)" text-anchor="middle" font-size="27" class="t">600</text>
<text transform="translate(1423.4,2257) rotate(-90)" text-anchor="middle" font-size="27" class="t">1000</text>
<text transform="translate(1423.4,2163.08) rotate(-90)" text-anchor="middle" font-size="27" class="t">1400</text>
<text transform="translate(1423.4,2069.16) rotate(-90)" text-anchor="middle" font-size="27" class="t">1800</text>
<text transform="translate(1467,2257) rotate(-90)" text-anchor="middle" font-size="36">Mean cumulative</text>
<text transform="translate(1510.5,2257) rotate(-90)" text-anchor="middle" font-size="36">annual precipitation</text>
<text x="247" y="2129.2" font-size="75" font-weight="bold">D</text>
<text transform="translate(287.5,2469.34) rotate(-45)" text-anchor="end" font-size="21" class="l">CentralArizona-Phoenix_pitfalls</text>
<text transform="translate(336.26,2469.34) rotate(-45)" text-anchor="end" font-size="21" class="l">CentralArizona-Phoenix_sweep net</text>
<text transform="translate(385.02,2469.34) rotate(-45)" text-anchor="end" font-size="21" class="l">Arctic_stream insects</text>
<text transform="translate(433.78,2469.34) rotate(-45)" text-anchor="end" font-size="21" class="l">Sevilleta_grasshoppers</text>
<text transform="translate(482.54,2469.34) rotate(-45)" text-anchor="end" font-size="21" class="l">Sevilleta_pitfall</text>
<text transform="translate(531.3,2469.34) rotate(-45)" text-anchor="end" font-size="21" class="l">BonanzaCreek_bark beetles</text>
<text transform="translate(580.06,2469.34) rotate(-45)" text-anchor="end" font-size="21" class="l">BonanzaCreek_leaf miners</text>
<text transform="translate(628.82,2469.34) rotate(-45)" text-anchor="end" font-size="21" class="l">CedarCreek_grasshoppers</text>
<text transform="translate(677.58,2469.34) rotate(-45)" text-anchor="end" font-size="21" class="l">CedarCreek_sweep net</text>
<text transform="translate(726.34,2469.34) rotate(-45)" text-anchor="end" font-size="21" class="l">NorthTemperateLakes_crayfish</text>
<text transform="translate(775.1,2469.34) rotate(-45)" text-anchor="end" font-size="21" class="l">NorthTemperateLakes_lake insects</text>
<text transform="translate(823.86,2469.34) rotate(-45)" text-anchor="end" font-size="21" class="l">KonzaPrairie_gall insects</text>
<text transform="translate(872.62,2469.34) rotate(-45)" text-anchor="end" font-size="21" class="l">KonzaPrairie_grasshoppers</text>
<text transform="translate(921.38,2469.34) rotate(-45)" text-anchor="end" font-size="21" class="l">MidwestSTN_aphids</text>
<text transform="translate(970.14,2469.34) rotate(-45)" text-anchor="end" font-size="21" class="l">HarvardForest_ants</text>
<text transform="translate(1018.9,2469.34) rotate(-45)" text-anchor="end" font-size="21" class="l">HarvardForest_ticks</text>
<text transform="translate(1067.66,2469.34) rotate(-45)" text-anchor="end" font-size="21" class="l">HubbardBrook_butterflies/moths</text>
<text transform="translate(1116.42,2469.34) rotate(-45)" text-anchor="end" font-size="21" class="l">Baltimore_mosquitoes</text>
<text transform="translate(1165.18,2469.34) rotate(-45)" text-anchor="end" font-size="21" class="l">GeorgiaCoastal_crabs</text>
<text transform="translate(1213.94,2469.34) rotate(-45)" text-anchor="end" font-size="21" class="l">GeorgiaCoastal_grasshoppers</text>
<text transform="translate(1262.7,2469.34) rotate(-45)" text-anchor="end" font-size="21" class="l">GeorgiaCoastal_planthoppers</text>
<text transform="translate(1311.46,2469.34) rotate(-45)" text-anchor="end" font-size="21" class="l">Coweeta_stream insects</text>
<text transform="translate(64,1293.6) rotate(-90)" text-anchor="middle" font-size="72">Abundance trend</text>
</svg>
</body></html>
